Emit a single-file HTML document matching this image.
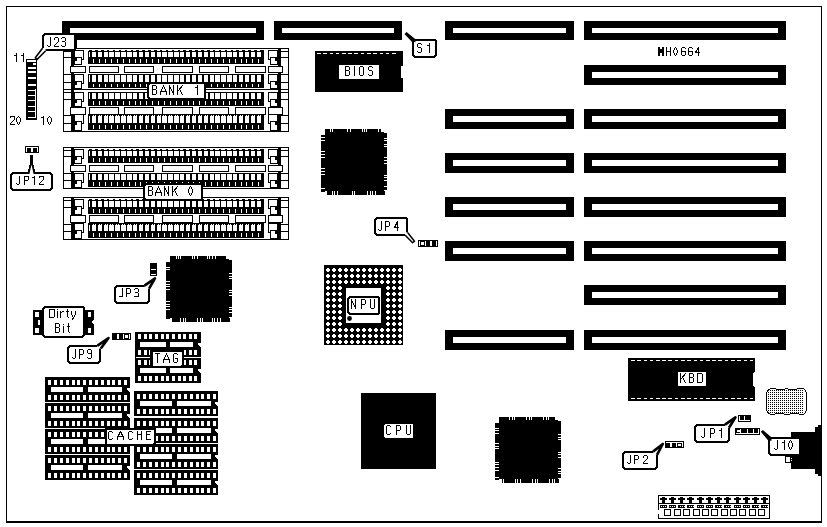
<!DOCTYPE html>
<html><head><meta charset="utf-8"><style>
html,body{margin:0;padding:0;background:#fff;overflow:hidden;}
svg{display:block;}
text{font-family:"Liberation Sans",sans-serif;}
</style></head><body>
<svg width="827" height="527" viewBox="0 0 827 527">
<rect width="827" height="527" fill="#fff"/>
<g shape-rendering="crispEdges">
<rect x="6" y="6" width="816" height="1" fill="#000"/>
<rect x="6" y="6" width="1" height="517" fill="#000"/>
<rect x="821" y="6" width="1" height="517" fill="#000"/>
<rect x="6" y="521" width="816" height="2" fill="#000"/>
<rect x="62" y="21" width="202" height="19" fill="#000"/>
<rect x="70" y="28" width="186" height="5" fill="#fff"/>
<rect x="274" y="21" width="128" height="19" fill="#000"/>
<rect x="282" y="28" width="112" height="5" fill="#fff"/>
<rect x="445" y="21" width="129" height="19" fill="#000"/>
<rect x="453" y="28" width="113" height="5" fill="#fff"/>
<rect x="584" y="21" width="202" height="19" fill="#000"/>
<rect x="592" y="28" width="186" height="5" fill="#fff"/>
<rect x="584" y="65" width="202" height="20" fill="#000"/>
<rect x="592" y="72" width="186" height="6" fill="#fff"/>
<rect x="445" y="109" width="129" height="20" fill="#000"/>
<rect x="453" y="116" width="113" height="6" fill="#fff"/>
<rect x="584" y="109" width="202" height="20" fill="#000"/>
<rect x="592" y="116" width="186" height="6" fill="#fff"/>
<rect x="445" y="153" width="129" height="20" fill="#000"/>
<rect x="453" y="160" width="113" height="6" fill="#fff"/>
<rect x="584" y="153" width="202" height="20" fill="#000"/>
<rect x="592" y="160" width="186" height="6" fill="#fff"/>
<rect x="445" y="197" width="129" height="20" fill="#000"/>
<rect x="453" y="204" width="113" height="6" fill="#fff"/>
<rect x="584" y="197" width="202" height="20" fill="#000"/>
<rect x="592" y="204" width="186" height="6" fill="#fff"/>
<rect x="445" y="241" width="129" height="20" fill="#000"/>
<rect x="453" y="248" width="113" height="6" fill="#fff"/>
<rect x="584" y="241" width="202" height="20" fill="#000"/>
<rect x="592" y="248" width="186" height="6" fill="#fff"/>
<rect x="584" y="285" width="202" height="20" fill="#000"/>
<rect x="592" y="292" width="186" height="6" fill="#fff"/>
<rect x="445" y="330" width="129" height="20" fill="#000"/>
<rect x="453" y="337" width="113" height="6" fill="#fff"/>
<rect x="584" y="330" width="202" height="20" fill="#000"/>
<rect x="592" y="337" width="186" height="6" fill="#fff"/>
<rect x="63" y="48" width="226" height="1" fill="#000"/>
<rect x="63" y="89" width="226" height="1" fill="#000"/>
<rect x="63" y="48" width="1" height="42" fill="#000"/>
<rect x="288" y="48" width="1" height="42" fill="#000"/>
<rect x="71" y="48" width="3" height="41" fill="#000"/>
<rect x="278" y="48" width="3" height="41" fill="#000"/>
<rect x="63" y="51" width="8" height="1" fill="#000"/>
<rect x="281" y="51" width="7" height="1" fill="#000"/>
<rect x="63" y="57" width="8" height="1" fill="#000"/>
<rect x="281" y="57" width="7" height="1" fill="#000"/>
<rect x="88" y="50" width="176" height="14" fill="#000"/>
<rect x="88" y="51" width="3" height="7" fill="#000"/>
<rect x="89" y="52" width="1" height="5" fill="#fff"/>
<rect x="92" y="52" width="4" height="5" fill="#fff"/>
<rect x="93" y="59" width="1" height="4" fill="#fff"/>
<rect x="92" y="50" width="3" height="1" fill="#fff"/>
<rect x="98" y="52" width="4" height="5" fill="#fff"/>
<rect x="99" y="59" width="1" height="4" fill="#fff"/>
<rect x="98" y="50" width="3" height="1" fill="#fff"/>
<rect x="104" y="52" width="4" height="5" fill="#fff"/>
<rect x="105" y="59" width="1" height="4" fill="#fff"/>
<rect x="104" y="50" width="3" height="1" fill="#fff"/>
<rect x="109" y="52" width="5" height="5" fill="#fff"/>
<rect x="111" y="59" width="1" height="4" fill="#fff"/>
<rect x="109" y="50" width="4" height="1" fill="#fff"/>
<rect x="115" y="52" width="5" height="5" fill="#fff"/>
<rect x="117" y="59" width="1" height="4" fill="#fff"/>
<rect x="115" y="50" width="4" height="1" fill="#fff"/>
<rect x="121" y="52" width="5" height="5" fill="#fff"/>
<rect x="123" y="59" width="1" height="4" fill="#fff"/>
<rect x="121" y="50" width="4" height="1" fill="#fff"/>
<rect x="127" y="52" width="5" height="5" fill="#fff"/>
<rect x="129" y="59" width="1" height="4" fill="#fff"/>
<rect x="127" y="50" width="4" height="1" fill="#fff"/>
<rect x="133" y="52" width="4" height="5" fill="#fff"/>
<rect x="135" y="59" width="1" height="4" fill="#fff"/>
<rect x="133" y="50" width="3" height="1" fill="#fff"/>
<rect x="139" y="52" width="4" height="5" fill="#fff"/>
<rect x="140" y="59" width="1" height="4" fill="#fff"/>
<rect x="139" y="50" width="3" height="1" fill="#fff"/>
<rect x="145" y="52" width="4" height="5" fill="#fff"/>
<rect x="146" y="59" width="1" height="4" fill="#fff"/>
<rect x="145" y="50" width="3" height="1" fill="#fff"/>
<rect x="151" y="52" width="4" height="5" fill="#fff"/>
<rect x="152" y="59" width="1" height="4" fill="#fff"/>
<rect x="151" y="50" width="3" height="1" fill="#fff"/>
<rect x="157" y="52" width="4" height="5" fill="#fff"/>
<rect x="158" y="59" width="1" height="4" fill="#fff"/>
<rect x="157" y="50" width="3" height="1" fill="#fff"/>
<rect x="162" y="52" width="5" height="5" fill="#fff"/>
<rect x="164" y="59" width="1" height="4" fill="#fff"/>
<rect x="162" y="50" width="4" height="1" fill="#fff"/>
<rect x="168" y="52" width="5" height="5" fill="#fff"/>
<rect x="170" y="59" width="1" height="4" fill="#fff"/>
<rect x="168" y="50" width="4" height="1" fill="#fff"/>
<rect x="174" y="52" width="5" height="5" fill="#fff"/>
<rect x="176" y="59" width="1" height="4" fill="#fff"/>
<rect x="174" y="50" width="4" height="1" fill="#fff"/>
<rect x="180" y="52" width="4" height="5" fill="#fff"/>
<rect x="182" y="59" width="1" height="4" fill="#fff"/>
<rect x="180" y="50" width="3" height="1" fill="#fff"/>
<rect x="186" y="52" width="4" height="5" fill="#fff"/>
<rect x="188" y="59" width="1" height="4" fill="#fff"/>
<rect x="186" y="50" width="3" height="1" fill="#fff"/>
<rect x="192" y="52" width="4" height="5" fill="#fff"/>
<rect x="193" y="59" width="1" height="4" fill="#fff"/>
<rect x="192" y="50" width="3" height="1" fill="#fff"/>
<rect x="198" y="52" width="4" height="5" fill="#fff"/>
<rect x="199" y="59" width="1" height="4" fill="#fff"/>
<rect x="198" y="50" width="3" height="1" fill="#fff"/>
<rect x="204" y="52" width="4" height="5" fill="#fff"/>
<rect x="205" y="59" width="1" height="4" fill="#fff"/>
<rect x="204" y="50" width="3" height="1" fill="#fff"/>
<rect x="210" y="52" width="4" height="5" fill="#fff"/>
<rect x="211" y="59" width="1" height="4" fill="#fff"/>
<rect x="210" y="50" width="3" height="1" fill="#fff"/>
<rect x="215" y="52" width="5" height="5" fill="#fff"/>
<rect x="217" y="59" width="1" height="4" fill="#fff"/>
<rect x="215" y="50" width="4" height="1" fill="#fff"/>
<rect x="221" y="52" width="5" height="5" fill="#fff"/>
<rect x="223" y="59" width="1" height="4" fill="#fff"/>
<rect x="221" y="50" width="4" height="1" fill="#fff"/>
<rect x="227" y="52" width="5" height="5" fill="#fff"/>
<rect x="229" y="59" width="1" height="4" fill="#fff"/>
<rect x="227" y="50" width="4" height="1" fill="#fff"/>
<rect x="233" y="52" width="4" height="5" fill="#fff"/>
<rect x="235" y="59" width="1" height="4" fill="#fff"/>
<rect x="233" y="50" width="3" height="1" fill="#fff"/>
<rect x="239" y="52" width="4" height="5" fill="#fff"/>
<rect x="241" y="59" width="1" height="4" fill="#fff"/>
<rect x="239" y="50" width="3" height="1" fill="#fff"/>
<rect x="245" y="52" width="4" height="5" fill="#fff"/>
<rect x="246" y="59" width="1" height="4" fill="#fff"/>
<rect x="245" y="50" width="3" height="1" fill="#fff"/>
<rect x="251" y="52" width="4" height="5" fill="#fff"/>
<rect x="252" y="59" width="1" height="4" fill="#fff"/>
<rect x="251" y="50" width="3" height="1" fill="#fff"/>
<rect x="257" y="52" width="4" height="5" fill="#fff"/>
<rect x="258" y="59" width="1" height="4" fill="#fff"/>
<rect x="257" y="50" width="3" height="1" fill="#fff"/>
<rect x="88" y="50" width="1" height="1" fill="#fff"/>
<rect x="74" y="50" width="10" height="10" fill="#000"/>
<rect x="75" y="51" width="8" height="8" fill="#fff"/>
<rect x="74" y="57" width="8" height="8" fill="#000"/>
<rect x="75" y="58" width="6" height="6" fill="#fff"/>
<rect x="74" y="58" width="3" height="3" fill="#000"/>
<rect x="268" y="50" width="10" height="10" fill="#000"/>
<rect x="269" y="51" width="8" height="8" fill="#fff"/>
<rect x="270" y="57" width="8" height="8" fill="#000"/>
<rect x="271" y="58" width="6" height="6" fill="#fff"/>
<rect x="275" y="58" width="3" height="3" fill="#000"/>
<rect x="63" y="74" width="8" height="1" fill="#000"/>
<rect x="281" y="74" width="7" height="1" fill="#000"/>
<rect x="63" y="82" width="8" height="1" fill="#000"/>
<rect x="281" y="82" width="7" height="1" fill="#000"/>
<rect x="88" y="74" width="176" height="14" fill="#000"/>
<rect x="88" y="74" width="3" height="9" fill="#000"/>
<rect x="89" y="75" width="1" height="7" fill="#fff"/>
<rect x="92" y="75" width="4" height="7" fill="#fff"/>
<rect x="93" y="84" width="1" height="3" fill="#fff"/>
<rect x="98" y="75" width="4" height="7" fill="#fff"/>
<rect x="99" y="84" width="1" height="3" fill="#fff"/>
<rect x="104" y="75" width="4" height="7" fill="#fff"/>
<rect x="105" y="84" width="1" height="3" fill="#fff"/>
<rect x="109" y="75" width="5" height="7" fill="#fff"/>
<rect x="111" y="84" width="1" height="3" fill="#fff"/>
<rect x="115" y="75" width="5" height="7" fill="#fff"/>
<rect x="117" y="84" width="1" height="3" fill="#fff"/>
<rect x="121" y="75" width="5" height="7" fill="#fff"/>
<rect x="123" y="84" width="1" height="3" fill="#fff"/>
<rect x="127" y="75" width="5" height="7" fill="#fff"/>
<rect x="129" y="84" width="1" height="3" fill="#fff"/>
<rect x="133" y="75" width="4" height="7" fill="#fff"/>
<rect x="135" y="84" width="1" height="3" fill="#fff"/>
<rect x="139" y="75" width="4" height="7" fill="#fff"/>
<rect x="140" y="84" width="1" height="3" fill="#fff"/>
<rect x="145" y="75" width="4" height="7" fill="#fff"/>
<rect x="146" y="84" width="1" height="3" fill="#fff"/>
<rect x="151" y="75" width="4" height="7" fill="#fff"/>
<rect x="152" y="84" width="1" height="3" fill="#fff"/>
<rect x="157" y="75" width="4" height="7" fill="#fff"/>
<rect x="158" y="84" width="1" height="3" fill="#fff"/>
<rect x="162" y="75" width="5" height="7" fill="#fff"/>
<rect x="164" y="84" width="1" height="3" fill="#fff"/>
<rect x="168" y="75" width="5" height="7" fill="#fff"/>
<rect x="170" y="84" width="1" height="3" fill="#fff"/>
<rect x="174" y="75" width="5" height="7" fill="#fff"/>
<rect x="176" y="84" width="1" height="3" fill="#fff"/>
<rect x="180" y="75" width="4" height="7" fill="#fff"/>
<rect x="182" y="84" width="1" height="3" fill="#fff"/>
<rect x="186" y="75" width="4" height="7" fill="#fff"/>
<rect x="188" y="84" width="1" height="3" fill="#fff"/>
<rect x="192" y="75" width="4" height="7" fill="#fff"/>
<rect x="193" y="84" width="1" height="3" fill="#fff"/>
<rect x="198" y="75" width="4" height="7" fill="#fff"/>
<rect x="199" y="84" width="1" height="3" fill="#fff"/>
<rect x="204" y="75" width="4" height="7" fill="#fff"/>
<rect x="205" y="84" width="1" height="3" fill="#fff"/>
<rect x="210" y="75" width="4" height="7" fill="#fff"/>
<rect x="211" y="84" width="1" height="3" fill="#fff"/>
<rect x="215" y="75" width="5" height="7" fill="#fff"/>
<rect x="217" y="84" width="1" height="3" fill="#fff"/>
<rect x="221" y="75" width="5" height="7" fill="#fff"/>
<rect x="223" y="84" width="1" height="3" fill="#fff"/>
<rect x="227" y="75" width="5" height="7" fill="#fff"/>
<rect x="229" y="84" width="1" height="3" fill="#fff"/>
<rect x="233" y="75" width="4" height="7" fill="#fff"/>
<rect x="235" y="84" width="1" height="3" fill="#fff"/>
<rect x="239" y="75" width="4" height="7" fill="#fff"/>
<rect x="241" y="84" width="1" height="3" fill="#fff"/>
<rect x="245" y="75" width="4" height="7" fill="#fff"/>
<rect x="246" y="84" width="1" height="3" fill="#fff"/>
<rect x="251" y="75" width="4" height="7" fill="#fff"/>
<rect x="252" y="84" width="1" height="3" fill="#fff"/>
<rect x="257" y="75" width="4" height="7" fill="#fff"/>
<rect x="258" y="84" width="1" height="3" fill="#fff"/>
<rect x="74" y="74" width="10" height="10" fill="#000"/>
<rect x="75" y="75" width="8" height="8" fill="#fff"/>
<rect x="74" y="81" width="8" height="8" fill="#000"/>
<rect x="75" y="82" width="6" height="6" fill="#fff"/>
<rect x="74" y="82" width="3" height="3" fill="#000"/>
<rect x="268" y="74" width="10" height="10" fill="#000"/>
<rect x="269" y="75" width="8" height="8" fill="#fff"/>
<rect x="270" y="81" width="8" height="8" fill="#000"/>
<rect x="271" y="82" width="6" height="6" fill="#fff"/>
<rect x="275" y="82" width="3" height="3" fill="#000"/>
<rect x="70" y="66" width="16" height="7" fill="#000"/>
<rect x="71" y="67" width="14" height="5" fill="#fff"/>
<rect x="89" y="66" width="30" height="7" fill="#000"/>
<rect x="90" y="67" width="28" height="5" fill="#fff"/>
<rect x="124" y="66" width="30" height="7" fill="#000"/>
<rect x="125" y="67" width="28" height="5" fill="#fff"/>
<rect x="162" y="66" width="31" height="7" fill="#000"/>
<rect x="163" y="67" width="29" height="5" fill="#fff"/>
<rect x="199" y="66" width="30" height="7" fill="#000"/>
<rect x="200" y="67" width="28" height="5" fill="#fff"/>
<rect x="235" y="66" width="31" height="7" fill="#000"/>
<rect x="236" y="67" width="29" height="5" fill="#fff"/>
<rect x="268" y="66" width="15" height="7" fill="#000"/>
<rect x="269" y="67" width="13" height="5" fill="#fff"/>
<rect x="63" y="89" width="226" height="1" fill="#000"/>
<rect x="63" y="131" width="226" height="1" fill="#000"/>
<rect x="63" y="89" width="1" height="43" fill="#000"/>
<rect x="288" y="89" width="1" height="43" fill="#000"/>
<rect x="71" y="89" width="3" height="42" fill="#000"/>
<rect x="278" y="89" width="3" height="42" fill="#000"/>
<rect x="63" y="92" width="8" height="1" fill="#000"/>
<rect x="281" y="92" width="7" height="1" fill="#000"/>
<rect x="63" y="99" width="8" height="1" fill="#000"/>
<rect x="281" y="99" width="7" height="1" fill="#000"/>
<rect x="88" y="92" width="176" height="14" fill="#000"/>
<rect x="88" y="92" width="3" height="8" fill="#000"/>
<rect x="89" y="93" width="1" height="6" fill="#fff"/>
<rect x="92" y="93" width="4" height="6" fill="#fff"/>
<rect x="93" y="101" width="1" height="4" fill="#fff"/>
<rect x="98" y="93" width="4" height="6" fill="#fff"/>
<rect x="99" y="101" width="1" height="4" fill="#fff"/>
<rect x="104" y="93" width="4" height="6" fill="#fff"/>
<rect x="105" y="101" width="1" height="4" fill="#fff"/>
<rect x="109" y="93" width="5" height="6" fill="#fff"/>
<rect x="111" y="101" width="1" height="4" fill="#fff"/>
<rect x="115" y="93" width="5" height="6" fill="#fff"/>
<rect x="117" y="101" width="1" height="4" fill="#fff"/>
<rect x="121" y="93" width="5" height="6" fill="#fff"/>
<rect x="123" y="101" width="1" height="4" fill="#fff"/>
<rect x="127" y="93" width="5" height="6" fill="#fff"/>
<rect x="129" y="101" width="1" height="4" fill="#fff"/>
<rect x="133" y="93" width="4" height="6" fill="#fff"/>
<rect x="135" y="101" width="1" height="4" fill="#fff"/>
<rect x="139" y="93" width="4" height="6" fill="#fff"/>
<rect x="140" y="101" width="1" height="4" fill="#fff"/>
<rect x="145" y="93" width="4" height="6" fill="#fff"/>
<rect x="146" y="101" width="1" height="4" fill="#fff"/>
<rect x="151" y="93" width="4" height="6" fill="#fff"/>
<rect x="152" y="101" width="1" height="4" fill="#fff"/>
<rect x="157" y="93" width="4" height="6" fill="#fff"/>
<rect x="158" y="101" width="1" height="4" fill="#fff"/>
<rect x="162" y="93" width="5" height="6" fill="#fff"/>
<rect x="164" y="101" width="1" height="4" fill="#fff"/>
<rect x="168" y="93" width="5" height="6" fill="#fff"/>
<rect x="170" y="101" width="1" height="4" fill="#fff"/>
<rect x="174" y="93" width="5" height="6" fill="#fff"/>
<rect x="176" y="101" width="1" height="4" fill="#fff"/>
<rect x="180" y="93" width="4" height="6" fill="#fff"/>
<rect x="182" y="101" width="1" height="4" fill="#fff"/>
<rect x="186" y="93" width="4" height="6" fill="#fff"/>
<rect x="188" y="101" width="1" height="4" fill="#fff"/>
<rect x="192" y="93" width="4" height="6" fill="#fff"/>
<rect x="193" y="101" width="1" height="4" fill="#fff"/>
<rect x="198" y="93" width="4" height="6" fill="#fff"/>
<rect x="199" y="101" width="1" height="4" fill="#fff"/>
<rect x="204" y="93" width="4" height="6" fill="#fff"/>
<rect x="205" y="101" width="1" height="4" fill="#fff"/>
<rect x="210" y="93" width="4" height="6" fill="#fff"/>
<rect x="211" y="101" width="1" height="4" fill="#fff"/>
<rect x="215" y="93" width="5" height="6" fill="#fff"/>
<rect x="217" y="101" width="1" height="4" fill="#fff"/>
<rect x="221" y="93" width="5" height="6" fill="#fff"/>
<rect x="223" y="101" width="1" height="4" fill="#fff"/>
<rect x="227" y="93" width="5" height="6" fill="#fff"/>
<rect x="229" y="101" width="1" height="4" fill="#fff"/>
<rect x="233" y="93" width="4" height="6" fill="#fff"/>
<rect x="235" y="101" width="1" height="4" fill="#fff"/>
<rect x="239" y="93" width="4" height="6" fill="#fff"/>
<rect x="241" y="101" width="1" height="4" fill="#fff"/>
<rect x="245" y="93" width="4" height="6" fill="#fff"/>
<rect x="246" y="101" width="1" height="4" fill="#fff"/>
<rect x="251" y="93" width="4" height="6" fill="#fff"/>
<rect x="252" y="101" width="1" height="4" fill="#fff"/>
<rect x="257" y="93" width="4" height="6" fill="#fff"/>
<rect x="258" y="101" width="1" height="4" fill="#fff"/>
<rect x="74" y="92" width="10" height="10" fill="#000"/>
<rect x="75" y="93" width="8" height="8" fill="#fff"/>
<rect x="74" y="99" width="8" height="8" fill="#000"/>
<rect x="75" y="100" width="6" height="6" fill="#fff"/>
<rect x="74" y="100" width="3" height="3" fill="#000"/>
<rect x="268" y="92" width="10" height="10" fill="#000"/>
<rect x="269" y="93" width="8" height="8" fill="#fff"/>
<rect x="270" y="99" width="8" height="8" fill="#000"/>
<rect x="271" y="100" width="6" height="6" fill="#fff"/>
<rect x="275" y="100" width="3" height="3" fill="#000"/>
<rect x="63" y="115" width="8" height="1" fill="#000"/>
<rect x="281" y="115" width="7" height="1" fill="#000"/>
<rect x="63" y="123" width="8" height="1" fill="#000"/>
<rect x="281" y="123" width="7" height="1" fill="#000"/>
<rect x="88" y="114" width="176" height="16" fill="#000"/>
<rect x="88" y="115" width="3" height="9" fill="#000"/>
<rect x="89" y="116" width="1" height="7" fill="#fff"/>
<rect x="92" y="116" width="4" height="7" fill="#fff"/>
<rect x="93" y="125" width="1" height="4" fill="#fff"/>
<rect x="93" y="115" width="1" height="1" fill="#fff"/>
<rect x="95" y="115" width="1" height="1" fill="#fff"/>
<rect x="98" y="116" width="4" height="7" fill="#fff"/>
<rect x="99" y="125" width="1" height="4" fill="#fff"/>
<rect x="99" y="115" width="1" height="1" fill="#fff"/>
<rect x="101" y="115" width="1" height="1" fill="#fff"/>
<rect x="104" y="116" width="4" height="7" fill="#fff"/>
<rect x="105" y="125" width="1" height="4" fill="#fff"/>
<rect x="105" y="115" width="1" height="1" fill="#fff"/>
<rect x="107" y="115" width="1" height="1" fill="#fff"/>
<rect x="109" y="116" width="5" height="7" fill="#fff"/>
<rect x="111" y="125" width="1" height="4" fill="#fff"/>
<rect x="110" y="115" width="1" height="1" fill="#fff"/>
<rect x="112" y="115" width="1" height="1" fill="#fff"/>
<rect x="115" y="116" width="5" height="7" fill="#fff"/>
<rect x="117" y="125" width="1" height="4" fill="#fff"/>
<rect x="116" y="115" width="1" height="1" fill="#fff"/>
<rect x="118" y="115" width="1" height="1" fill="#fff"/>
<rect x="121" y="116" width="5" height="7" fill="#fff"/>
<rect x="123" y="125" width="1" height="4" fill="#fff"/>
<rect x="122" y="115" width="1" height="1" fill="#fff"/>
<rect x="124" y="115" width="1" height="1" fill="#fff"/>
<rect x="127" y="116" width="5" height="7" fill="#fff"/>
<rect x="129" y="125" width="1" height="4" fill="#fff"/>
<rect x="128" y="115" width="1" height="1" fill="#fff"/>
<rect x="130" y="115" width="1" height="1" fill="#fff"/>
<rect x="133" y="116" width="4" height="7" fill="#fff"/>
<rect x="135" y="125" width="1" height="4" fill="#fff"/>
<rect x="134" y="115" width="1" height="1" fill="#fff"/>
<rect x="136" y="115" width="1" height="1" fill="#fff"/>
<rect x="139" y="116" width="4" height="7" fill="#fff"/>
<rect x="140" y="125" width="1" height="4" fill="#fff"/>
<rect x="140" y="115" width="1" height="1" fill="#fff"/>
<rect x="142" y="115" width="1" height="1" fill="#fff"/>
<rect x="145" y="116" width="4" height="7" fill="#fff"/>
<rect x="146" y="125" width="1" height="4" fill="#fff"/>
<rect x="146" y="115" width="1" height="1" fill="#fff"/>
<rect x="148" y="115" width="1" height="1" fill="#fff"/>
<rect x="151" y="116" width="4" height="7" fill="#fff"/>
<rect x="152" y="125" width="1" height="4" fill="#fff"/>
<rect x="152" y="115" width="1" height="1" fill="#fff"/>
<rect x="154" y="115" width="1" height="1" fill="#fff"/>
<rect x="157" y="116" width="4" height="7" fill="#fff"/>
<rect x="158" y="125" width="1" height="4" fill="#fff"/>
<rect x="158" y="115" width="1" height="1" fill="#fff"/>
<rect x="160" y="115" width="1" height="1" fill="#fff"/>
<rect x="162" y="116" width="5" height="7" fill="#fff"/>
<rect x="164" y="125" width="1" height="4" fill="#fff"/>
<rect x="163" y="115" width="1" height="1" fill="#fff"/>
<rect x="165" y="115" width="1" height="1" fill="#fff"/>
<rect x="168" y="116" width="5" height="7" fill="#fff"/>
<rect x="170" y="125" width="1" height="4" fill="#fff"/>
<rect x="169" y="115" width="1" height="1" fill="#fff"/>
<rect x="171" y="115" width="1" height="1" fill="#fff"/>
<rect x="174" y="116" width="5" height="7" fill="#fff"/>
<rect x="176" y="125" width="1" height="4" fill="#fff"/>
<rect x="175" y="115" width="1" height="1" fill="#fff"/>
<rect x="177" y="115" width="1" height="1" fill="#fff"/>
<rect x="180" y="116" width="4" height="7" fill="#fff"/>
<rect x="182" y="125" width="1" height="4" fill="#fff"/>
<rect x="181" y="115" width="1" height="1" fill="#fff"/>
<rect x="183" y="115" width="1" height="1" fill="#fff"/>
<rect x="186" y="116" width="4" height="7" fill="#fff"/>
<rect x="188" y="125" width="1" height="4" fill="#fff"/>
<rect x="187" y="115" width="1" height="1" fill="#fff"/>
<rect x="189" y="115" width="1" height="1" fill="#fff"/>
<rect x="192" y="116" width="4" height="7" fill="#fff"/>
<rect x="193" y="125" width="1" height="4" fill="#fff"/>
<rect x="193" y="115" width="1" height="1" fill="#fff"/>
<rect x="195" y="115" width="1" height="1" fill="#fff"/>
<rect x="198" y="116" width="4" height="7" fill="#fff"/>
<rect x="199" y="125" width="1" height="4" fill="#fff"/>
<rect x="199" y="115" width="1" height="1" fill="#fff"/>
<rect x="201" y="115" width="1" height="1" fill="#fff"/>
<rect x="204" y="116" width="4" height="7" fill="#fff"/>
<rect x="205" y="125" width="1" height="4" fill="#fff"/>
<rect x="205" y="115" width="1" height="1" fill="#fff"/>
<rect x="207" y="115" width="1" height="1" fill="#fff"/>
<rect x="210" y="116" width="4" height="7" fill="#fff"/>
<rect x="211" y="125" width="1" height="4" fill="#fff"/>
<rect x="211" y="115" width="1" height="1" fill="#fff"/>
<rect x="213" y="115" width="1" height="1" fill="#fff"/>
<rect x="215" y="116" width="5" height="7" fill="#fff"/>
<rect x="217" y="125" width="1" height="4" fill="#fff"/>
<rect x="216" y="115" width="1" height="1" fill="#fff"/>
<rect x="218" y="115" width="1" height="1" fill="#fff"/>
<rect x="221" y="116" width="5" height="7" fill="#fff"/>
<rect x="223" y="125" width="1" height="4" fill="#fff"/>
<rect x="222" y="115" width="1" height="1" fill="#fff"/>
<rect x="224" y="115" width="1" height="1" fill="#fff"/>
<rect x="227" y="116" width="5" height="7" fill="#fff"/>
<rect x="229" y="125" width="1" height="4" fill="#fff"/>
<rect x="228" y="115" width="1" height="1" fill="#fff"/>
<rect x="230" y="115" width="1" height="1" fill="#fff"/>
<rect x="233" y="116" width="4" height="7" fill="#fff"/>
<rect x="235" y="125" width="1" height="4" fill="#fff"/>
<rect x="234" y="115" width="1" height="1" fill="#fff"/>
<rect x="236" y="115" width="1" height="1" fill="#fff"/>
<rect x="239" y="116" width="4" height="7" fill="#fff"/>
<rect x="241" y="125" width="1" height="4" fill="#fff"/>
<rect x="240" y="115" width="1" height="1" fill="#fff"/>
<rect x="242" y="115" width="1" height="1" fill="#fff"/>
<rect x="245" y="116" width="4" height="7" fill="#fff"/>
<rect x="246" y="125" width="1" height="4" fill="#fff"/>
<rect x="246" y="115" width="1" height="1" fill="#fff"/>
<rect x="248" y="115" width="1" height="1" fill="#fff"/>
<rect x="251" y="116" width="4" height="7" fill="#fff"/>
<rect x="252" y="125" width="1" height="4" fill="#fff"/>
<rect x="252" y="115" width="1" height="1" fill="#fff"/>
<rect x="254" y="115" width="1" height="1" fill="#fff"/>
<rect x="257" y="116" width="4" height="7" fill="#fff"/>
<rect x="258" y="125" width="1" height="4" fill="#fff"/>
<rect x="258" y="115" width="1" height="1" fill="#fff"/>
<rect x="260" y="115" width="1" height="1" fill="#fff"/>
<rect x="74" y="114" width="10" height="10" fill="#000"/>
<rect x="75" y="115" width="8" height="8" fill="#fff"/>
<rect x="74" y="121" width="8" height="10" fill="#000"/>
<rect x="75" y="122" width="6" height="8" fill="#fff"/>
<rect x="74" y="122" width="3" height="3" fill="#000"/>
<rect x="268" y="114" width="10" height="10" fill="#000"/>
<rect x="269" y="115" width="8" height="8" fill="#fff"/>
<rect x="270" y="121" width="8" height="10" fill="#000"/>
<rect x="271" y="122" width="6" height="8" fill="#fff"/>
<rect x="275" y="122" width="3" height="3" fill="#000"/>
<rect x="70" y="107" width="16" height="8" fill="#000"/>
<rect x="71" y="108" width="14" height="6" fill="#fff"/>
<rect x="89" y="107" width="30" height="8" fill="#000"/>
<rect x="90" y="108" width="28" height="6" fill="#fff"/>
<rect x="124" y="107" width="30" height="8" fill="#000"/>
<rect x="125" y="108" width="28" height="6" fill="#fff"/>
<rect x="162" y="107" width="31" height="8" fill="#000"/>
<rect x="163" y="108" width="29" height="6" fill="#fff"/>
<rect x="199" y="107" width="30" height="8" fill="#000"/>
<rect x="200" y="108" width="28" height="6" fill="#fff"/>
<rect x="235" y="107" width="31" height="8" fill="#000"/>
<rect x="236" y="108" width="29" height="6" fill="#fff"/>
<rect x="268" y="107" width="15" height="8" fill="#000"/>
<rect x="269" y="108" width="13" height="6" fill="#fff"/>
<rect x="63" y="147" width="226" height="1" fill="#000"/>
<rect x="63" y="188" width="226" height="1" fill="#000"/>
<rect x="63" y="147" width="1" height="42" fill="#000"/>
<rect x="288" y="147" width="1" height="42" fill="#000"/>
<rect x="71" y="147" width="3" height="41" fill="#000"/>
<rect x="278" y="147" width="3" height="41" fill="#000"/>
<rect x="63" y="150" width="8" height="1" fill="#000"/>
<rect x="281" y="150" width="7" height="1" fill="#000"/>
<rect x="63" y="156" width="8" height="1" fill="#000"/>
<rect x="281" y="156" width="7" height="1" fill="#000"/>
<rect x="88" y="149" width="176" height="14" fill="#000"/>
<rect x="88" y="150" width="3" height="7" fill="#000"/>
<rect x="89" y="151" width="1" height="5" fill="#fff"/>
<rect x="92" y="151" width="4" height="5" fill="#fff"/>
<rect x="93" y="158" width="1" height="4" fill="#fff"/>
<rect x="92" y="149" width="3" height="1" fill="#fff"/>
<rect x="98" y="151" width="4" height="5" fill="#fff"/>
<rect x="99" y="158" width="1" height="4" fill="#fff"/>
<rect x="98" y="149" width="3" height="1" fill="#fff"/>
<rect x="104" y="151" width="4" height="5" fill="#fff"/>
<rect x="105" y="158" width="1" height="4" fill="#fff"/>
<rect x="104" y="149" width="3" height="1" fill="#fff"/>
<rect x="109" y="151" width="5" height="5" fill="#fff"/>
<rect x="111" y="158" width="1" height="4" fill="#fff"/>
<rect x="109" y="149" width="4" height="1" fill="#fff"/>
<rect x="115" y="151" width="5" height="5" fill="#fff"/>
<rect x="117" y="158" width="1" height="4" fill="#fff"/>
<rect x="115" y="149" width="4" height="1" fill="#fff"/>
<rect x="121" y="151" width="5" height="5" fill="#fff"/>
<rect x="123" y="158" width="1" height="4" fill="#fff"/>
<rect x="121" y="149" width="4" height="1" fill="#fff"/>
<rect x="127" y="151" width="5" height="5" fill="#fff"/>
<rect x="129" y="158" width="1" height="4" fill="#fff"/>
<rect x="127" y="149" width="4" height="1" fill="#fff"/>
<rect x="133" y="151" width="4" height="5" fill="#fff"/>
<rect x="135" y="158" width="1" height="4" fill="#fff"/>
<rect x="133" y="149" width="3" height="1" fill="#fff"/>
<rect x="139" y="151" width="4" height="5" fill="#fff"/>
<rect x="140" y="158" width="1" height="4" fill="#fff"/>
<rect x="139" y="149" width="3" height="1" fill="#fff"/>
<rect x="145" y="151" width="4" height="5" fill="#fff"/>
<rect x="146" y="158" width="1" height="4" fill="#fff"/>
<rect x="145" y="149" width="3" height="1" fill="#fff"/>
<rect x="151" y="151" width="4" height="5" fill="#fff"/>
<rect x="152" y="158" width="1" height="4" fill="#fff"/>
<rect x="151" y="149" width="3" height="1" fill="#fff"/>
<rect x="157" y="151" width="4" height="5" fill="#fff"/>
<rect x="158" y="158" width="1" height="4" fill="#fff"/>
<rect x="157" y="149" width="3" height="1" fill="#fff"/>
<rect x="162" y="151" width="5" height="5" fill="#fff"/>
<rect x="164" y="158" width="1" height="4" fill="#fff"/>
<rect x="162" y="149" width="4" height="1" fill="#fff"/>
<rect x="168" y="151" width="5" height="5" fill="#fff"/>
<rect x="170" y="158" width="1" height="4" fill="#fff"/>
<rect x="168" y="149" width="4" height="1" fill="#fff"/>
<rect x="174" y="151" width="5" height="5" fill="#fff"/>
<rect x="176" y="158" width="1" height="4" fill="#fff"/>
<rect x="174" y="149" width="4" height="1" fill="#fff"/>
<rect x="180" y="151" width="4" height="5" fill="#fff"/>
<rect x="182" y="158" width="1" height="4" fill="#fff"/>
<rect x="180" y="149" width="3" height="1" fill="#fff"/>
<rect x="186" y="151" width="4" height="5" fill="#fff"/>
<rect x="188" y="158" width="1" height="4" fill="#fff"/>
<rect x="186" y="149" width="3" height="1" fill="#fff"/>
<rect x="192" y="151" width="4" height="5" fill="#fff"/>
<rect x="193" y="158" width="1" height="4" fill="#fff"/>
<rect x="192" y="149" width="3" height="1" fill="#fff"/>
<rect x="198" y="151" width="4" height="5" fill="#fff"/>
<rect x="199" y="158" width="1" height="4" fill="#fff"/>
<rect x="198" y="149" width="3" height="1" fill="#fff"/>
<rect x="204" y="151" width="4" height="5" fill="#fff"/>
<rect x="205" y="158" width="1" height="4" fill="#fff"/>
<rect x="204" y="149" width="3" height="1" fill="#fff"/>
<rect x="210" y="151" width="4" height="5" fill="#fff"/>
<rect x="211" y="158" width="1" height="4" fill="#fff"/>
<rect x="210" y="149" width="3" height="1" fill="#fff"/>
<rect x="215" y="151" width="5" height="5" fill="#fff"/>
<rect x="217" y="158" width="1" height="4" fill="#fff"/>
<rect x="215" y="149" width="4" height="1" fill="#fff"/>
<rect x="221" y="151" width="5" height="5" fill="#fff"/>
<rect x="223" y="158" width="1" height="4" fill="#fff"/>
<rect x="221" y="149" width="4" height="1" fill="#fff"/>
<rect x="227" y="151" width="5" height="5" fill="#fff"/>
<rect x="229" y="158" width="1" height="4" fill="#fff"/>
<rect x="227" y="149" width="4" height="1" fill="#fff"/>
<rect x="233" y="151" width="4" height="5" fill="#fff"/>
<rect x="235" y="158" width="1" height="4" fill="#fff"/>
<rect x="233" y="149" width="3" height="1" fill="#fff"/>
<rect x="239" y="151" width="4" height="5" fill="#fff"/>
<rect x="241" y="158" width="1" height="4" fill="#fff"/>
<rect x="239" y="149" width="3" height="1" fill="#fff"/>
<rect x="245" y="151" width="4" height="5" fill="#fff"/>
<rect x="246" y="158" width="1" height="4" fill="#fff"/>
<rect x="245" y="149" width="3" height="1" fill="#fff"/>
<rect x="251" y="151" width="4" height="5" fill="#fff"/>
<rect x="252" y="158" width="1" height="4" fill="#fff"/>
<rect x="251" y="149" width="3" height="1" fill="#fff"/>
<rect x="257" y="151" width="4" height="5" fill="#fff"/>
<rect x="258" y="158" width="1" height="4" fill="#fff"/>
<rect x="257" y="149" width="3" height="1" fill="#fff"/>
<rect x="88" y="149" width="1" height="1" fill="#fff"/>
<rect x="74" y="149" width="10" height="10" fill="#000"/>
<rect x="75" y="150" width="8" height="8" fill="#fff"/>
<rect x="74" y="156" width="8" height="8" fill="#000"/>
<rect x="75" y="157" width="6" height="6" fill="#fff"/>
<rect x="74" y="157" width="3" height="3" fill="#000"/>
<rect x="268" y="149" width="10" height="10" fill="#000"/>
<rect x="269" y="150" width="8" height="8" fill="#fff"/>
<rect x="270" y="156" width="8" height="8" fill="#000"/>
<rect x="271" y="157" width="6" height="6" fill="#fff"/>
<rect x="275" y="157" width="3" height="3" fill="#000"/>
<rect x="63" y="173" width="8" height="1" fill="#000"/>
<rect x="281" y="173" width="7" height="1" fill="#000"/>
<rect x="63" y="180" width="8" height="1" fill="#000"/>
<rect x="281" y="180" width="7" height="1" fill="#000"/>
<rect x="88" y="173" width="176" height="14" fill="#000"/>
<rect x="88" y="173" width="3" height="8" fill="#000"/>
<rect x="89" y="174" width="1" height="6" fill="#fff"/>
<rect x="92" y="174" width="4" height="6" fill="#fff"/>
<rect x="93" y="182" width="1" height="4" fill="#fff"/>
<rect x="98" y="174" width="4" height="6" fill="#fff"/>
<rect x="99" y="182" width="1" height="4" fill="#fff"/>
<rect x="104" y="174" width="4" height="6" fill="#fff"/>
<rect x="105" y="182" width="1" height="4" fill="#fff"/>
<rect x="109" y="174" width="5" height="6" fill="#fff"/>
<rect x="111" y="182" width="1" height="4" fill="#fff"/>
<rect x="115" y="174" width="5" height="6" fill="#fff"/>
<rect x="117" y="182" width="1" height="4" fill="#fff"/>
<rect x="121" y="174" width="5" height="6" fill="#fff"/>
<rect x="123" y="182" width="1" height="4" fill="#fff"/>
<rect x="127" y="174" width="5" height="6" fill="#fff"/>
<rect x="129" y="182" width="1" height="4" fill="#fff"/>
<rect x="133" y="174" width="4" height="6" fill="#fff"/>
<rect x="135" y="182" width="1" height="4" fill="#fff"/>
<rect x="139" y="174" width="4" height="6" fill="#fff"/>
<rect x="140" y="182" width="1" height="4" fill="#fff"/>
<rect x="145" y="174" width="4" height="6" fill="#fff"/>
<rect x="146" y="182" width="1" height="4" fill="#fff"/>
<rect x="151" y="174" width="4" height="6" fill="#fff"/>
<rect x="152" y="182" width="1" height="4" fill="#fff"/>
<rect x="157" y="174" width="4" height="6" fill="#fff"/>
<rect x="158" y="182" width="1" height="4" fill="#fff"/>
<rect x="162" y="174" width="5" height="6" fill="#fff"/>
<rect x="164" y="182" width="1" height="4" fill="#fff"/>
<rect x="168" y="174" width="5" height="6" fill="#fff"/>
<rect x="170" y="182" width="1" height="4" fill="#fff"/>
<rect x="174" y="174" width="5" height="6" fill="#fff"/>
<rect x="176" y="182" width="1" height="4" fill="#fff"/>
<rect x="180" y="174" width="4" height="6" fill="#fff"/>
<rect x="182" y="182" width="1" height="4" fill="#fff"/>
<rect x="186" y="174" width="4" height="6" fill="#fff"/>
<rect x="188" y="182" width="1" height="4" fill="#fff"/>
<rect x="192" y="174" width="4" height="6" fill="#fff"/>
<rect x="193" y="182" width="1" height="4" fill="#fff"/>
<rect x="198" y="174" width="4" height="6" fill="#fff"/>
<rect x="199" y="182" width="1" height="4" fill="#fff"/>
<rect x="204" y="174" width="4" height="6" fill="#fff"/>
<rect x="205" y="182" width="1" height="4" fill="#fff"/>
<rect x="210" y="174" width="4" height="6" fill="#fff"/>
<rect x="211" y="182" width="1" height="4" fill="#fff"/>
<rect x="215" y="174" width="5" height="6" fill="#fff"/>
<rect x="217" y="182" width="1" height="4" fill="#fff"/>
<rect x="221" y="174" width="5" height="6" fill="#fff"/>
<rect x="223" y="182" width="1" height="4" fill="#fff"/>
<rect x="227" y="174" width="5" height="6" fill="#fff"/>
<rect x="229" y="182" width="1" height="4" fill="#fff"/>
<rect x="233" y="174" width="4" height="6" fill="#fff"/>
<rect x="235" y="182" width="1" height="4" fill="#fff"/>
<rect x="239" y="174" width="4" height="6" fill="#fff"/>
<rect x="241" y="182" width="1" height="4" fill="#fff"/>
<rect x="245" y="174" width="4" height="6" fill="#fff"/>
<rect x="246" y="182" width="1" height="4" fill="#fff"/>
<rect x="251" y="174" width="4" height="6" fill="#fff"/>
<rect x="252" y="182" width="1" height="4" fill="#fff"/>
<rect x="257" y="174" width="4" height="6" fill="#fff"/>
<rect x="258" y="182" width="1" height="4" fill="#fff"/>
<rect x="74" y="173" width="10" height="10" fill="#000"/>
<rect x="75" y="174" width="8" height="8" fill="#fff"/>
<rect x="74" y="180" width="8" height="8" fill="#000"/>
<rect x="75" y="181" width="6" height="6" fill="#fff"/>
<rect x="74" y="181" width="3" height="3" fill="#000"/>
<rect x="268" y="173" width="10" height="10" fill="#000"/>
<rect x="269" y="174" width="8" height="8" fill="#fff"/>
<rect x="270" y="180" width="8" height="8" fill="#000"/>
<rect x="271" y="181" width="6" height="6" fill="#fff"/>
<rect x="275" y="181" width="3" height="3" fill="#000"/>
<rect x="70" y="165" width="16" height="7" fill="#000"/>
<rect x="71" y="166" width="14" height="5" fill="#fff"/>
<rect x="89" y="165" width="30" height="7" fill="#000"/>
<rect x="90" y="166" width="28" height="5" fill="#fff"/>
<rect x="124" y="165" width="30" height="7" fill="#000"/>
<rect x="125" y="166" width="28" height="5" fill="#fff"/>
<rect x="162" y="165" width="31" height="7" fill="#000"/>
<rect x="163" y="166" width="29" height="5" fill="#fff"/>
<rect x="199" y="165" width="30" height="7" fill="#000"/>
<rect x="200" y="166" width="28" height="5" fill="#fff"/>
<rect x="235" y="165" width="31" height="7" fill="#000"/>
<rect x="236" y="166" width="29" height="5" fill="#fff"/>
<rect x="268" y="165" width="15" height="7" fill="#000"/>
<rect x="269" y="166" width="13" height="5" fill="#fff"/>
<rect x="63" y="197" width="226" height="1" fill="#000"/>
<rect x="63" y="239" width="226" height="1" fill="#000"/>
<rect x="63" y="197" width="1" height="43" fill="#000"/>
<rect x="288" y="197" width="1" height="43" fill="#000"/>
<rect x="71" y="197" width="3" height="42" fill="#000"/>
<rect x="278" y="197" width="3" height="42" fill="#000"/>
<rect x="63" y="200" width="8" height="1" fill="#000"/>
<rect x="281" y="200" width="7" height="1" fill="#000"/>
<rect x="63" y="207" width="8" height="1" fill="#000"/>
<rect x="281" y="207" width="7" height="1" fill="#000"/>
<rect x="88" y="199" width="176" height="15" fill="#000"/>
<rect x="88" y="200" width="3" height="8" fill="#000"/>
<rect x="89" y="201" width="1" height="6" fill="#fff"/>
<rect x="92" y="201" width="4" height="6" fill="#fff"/>
<rect x="93" y="209" width="1" height="4" fill="#fff"/>
<rect x="92" y="199" width="3" height="1" fill="#fff"/>
<rect x="98" y="201" width="4" height="6" fill="#fff"/>
<rect x="99" y="209" width="1" height="4" fill="#fff"/>
<rect x="98" y="199" width="3" height="1" fill="#fff"/>
<rect x="104" y="201" width="4" height="6" fill="#fff"/>
<rect x="105" y="209" width="1" height="4" fill="#fff"/>
<rect x="104" y="199" width="3" height="1" fill="#fff"/>
<rect x="109" y="201" width="5" height="6" fill="#fff"/>
<rect x="111" y="209" width="1" height="4" fill="#fff"/>
<rect x="109" y="199" width="4" height="1" fill="#fff"/>
<rect x="115" y="201" width="5" height="6" fill="#fff"/>
<rect x="117" y="209" width="1" height="4" fill="#fff"/>
<rect x="115" y="199" width="4" height="1" fill="#fff"/>
<rect x="121" y="201" width="5" height="6" fill="#fff"/>
<rect x="123" y="209" width="1" height="4" fill="#fff"/>
<rect x="121" y="199" width="4" height="1" fill="#fff"/>
<rect x="127" y="201" width="5" height="6" fill="#fff"/>
<rect x="129" y="209" width="1" height="4" fill="#fff"/>
<rect x="127" y="199" width="4" height="1" fill="#fff"/>
<rect x="133" y="201" width="4" height="6" fill="#fff"/>
<rect x="135" y="209" width="1" height="4" fill="#fff"/>
<rect x="133" y="199" width="3" height="1" fill="#fff"/>
<rect x="139" y="201" width="4" height="6" fill="#fff"/>
<rect x="140" y="209" width="1" height="4" fill="#fff"/>
<rect x="139" y="199" width="3" height="1" fill="#fff"/>
<rect x="145" y="201" width="4" height="6" fill="#fff"/>
<rect x="146" y="209" width="1" height="4" fill="#fff"/>
<rect x="145" y="199" width="3" height="1" fill="#fff"/>
<rect x="151" y="201" width="4" height="6" fill="#fff"/>
<rect x="152" y="209" width="1" height="4" fill="#fff"/>
<rect x="151" y="199" width="3" height="1" fill="#fff"/>
<rect x="157" y="201" width="4" height="6" fill="#fff"/>
<rect x="158" y="209" width="1" height="4" fill="#fff"/>
<rect x="157" y="199" width="3" height="1" fill="#fff"/>
<rect x="162" y="201" width="5" height="6" fill="#fff"/>
<rect x="164" y="209" width="1" height="4" fill="#fff"/>
<rect x="162" y="199" width="4" height="1" fill="#fff"/>
<rect x="168" y="201" width="5" height="6" fill="#fff"/>
<rect x="170" y="209" width="1" height="4" fill="#fff"/>
<rect x="168" y="199" width="4" height="1" fill="#fff"/>
<rect x="174" y="201" width="5" height="6" fill="#fff"/>
<rect x="176" y="209" width="1" height="4" fill="#fff"/>
<rect x="174" y="199" width="4" height="1" fill="#fff"/>
<rect x="180" y="201" width="4" height="6" fill="#fff"/>
<rect x="182" y="209" width="1" height="4" fill="#fff"/>
<rect x="180" y="199" width="3" height="1" fill="#fff"/>
<rect x="186" y="201" width="4" height="6" fill="#fff"/>
<rect x="188" y="209" width="1" height="4" fill="#fff"/>
<rect x="186" y="199" width="3" height="1" fill="#fff"/>
<rect x="192" y="201" width="4" height="6" fill="#fff"/>
<rect x="193" y="209" width="1" height="4" fill="#fff"/>
<rect x="192" y="199" width="3" height="1" fill="#fff"/>
<rect x="198" y="201" width="4" height="6" fill="#fff"/>
<rect x="199" y="209" width="1" height="4" fill="#fff"/>
<rect x="198" y="199" width="3" height="1" fill="#fff"/>
<rect x="204" y="201" width="4" height="6" fill="#fff"/>
<rect x="205" y="209" width="1" height="4" fill="#fff"/>
<rect x="204" y="199" width="3" height="1" fill="#fff"/>
<rect x="210" y="201" width="4" height="6" fill="#fff"/>
<rect x="211" y="209" width="1" height="4" fill="#fff"/>
<rect x="210" y="199" width="3" height="1" fill="#fff"/>
<rect x="215" y="201" width="5" height="6" fill="#fff"/>
<rect x="217" y="209" width="1" height="4" fill="#fff"/>
<rect x="215" y="199" width="4" height="1" fill="#fff"/>
<rect x="221" y="201" width="5" height="6" fill="#fff"/>
<rect x="223" y="209" width="1" height="4" fill="#fff"/>
<rect x="221" y="199" width="4" height="1" fill="#fff"/>
<rect x="227" y="201" width="5" height="6" fill="#fff"/>
<rect x="229" y="209" width="1" height="4" fill="#fff"/>
<rect x="227" y="199" width="4" height="1" fill="#fff"/>
<rect x="233" y="201" width="4" height="6" fill="#fff"/>
<rect x="235" y="209" width="1" height="4" fill="#fff"/>
<rect x="233" y="199" width="3" height="1" fill="#fff"/>
<rect x="239" y="201" width="4" height="6" fill="#fff"/>
<rect x="241" y="209" width="1" height="4" fill="#fff"/>
<rect x="239" y="199" width="3" height="1" fill="#fff"/>
<rect x="245" y="201" width="4" height="6" fill="#fff"/>
<rect x="246" y="209" width="1" height="4" fill="#fff"/>
<rect x="245" y="199" width="3" height="1" fill="#fff"/>
<rect x="251" y="201" width="4" height="6" fill="#fff"/>
<rect x="252" y="209" width="1" height="4" fill="#fff"/>
<rect x="251" y="199" width="3" height="1" fill="#fff"/>
<rect x="257" y="201" width="4" height="6" fill="#fff"/>
<rect x="258" y="209" width="1" height="4" fill="#fff"/>
<rect x="257" y="199" width="3" height="1" fill="#fff"/>
<rect x="88" y="199" width="1" height="1" fill="#fff"/>
<rect x="74" y="199" width="10" height="10" fill="#000"/>
<rect x="75" y="200" width="8" height="8" fill="#fff"/>
<rect x="74" y="206" width="8" height="9" fill="#000"/>
<rect x="75" y="207" width="6" height="7" fill="#fff"/>
<rect x="74" y="207" width="3" height="3" fill="#000"/>
<rect x="268" y="199" width="10" height="10" fill="#000"/>
<rect x="269" y="200" width="8" height="8" fill="#fff"/>
<rect x="270" y="206" width="8" height="9" fill="#000"/>
<rect x="271" y="207" width="6" height="7" fill="#fff"/>
<rect x="275" y="207" width="3" height="3" fill="#000"/>
<rect x="63" y="224" width="8" height="1" fill="#000"/>
<rect x="281" y="224" width="7" height="1" fill="#000"/>
<rect x="63" y="231" width="8" height="1" fill="#000"/>
<rect x="281" y="231" width="7" height="1" fill="#000"/>
<rect x="88" y="223" width="176" height="15" fill="#000"/>
<rect x="88" y="224" width="3" height="8" fill="#000"/>
<rect x="89" y="225" width="1" height="6" fill="#fff"/>
<rect x="92" y="225" width="4" height="6" fill="#fff"/>
<rect x="93" y="233" width="1" height="4" fill="#fff"/>
<rect x="93" y="224" width="1" height="1" fill="#fff"/>
<rect x="95" y="224" width="1" height="1" fill="#fff"/>
<rect x="98" y="225" width="4" height="6" fill="#fff"/>
<rect x="99" y="233" width="1" height="4" fill="#fff"/>
<rect x="99" y="224" width="1" height="1" fill="#fff"/>
<rect x="101" y="224" width="1" height="1" fill="#fff"/>
<rect x="104" y="225" width="4" height="6" fill="#fff"/>
<rect x="105" y="233" width="1" height="4" fill="#fff"/>
<rect x="105" y="224" width="1" height="1" fill="#fff"/>
<rect x="107" y="224" width="1" height="1" fill="#fff"/>
<rect x="109" y="225" width="5" height="6" fill="#fff"/>
<rect x="111" y="233" width="1" height="4" fill="#fff"/>
<rect x="110" y="224" width="1" height="1" fill="#fff"/>
<rect x="112" y="224" width="1" height="1" fill="#fff"/>
<rect x="115" y="225" width="5" height="6" fill="#fff"/>
<rect x="117" y="233" width="1" height="4" fill="#fff"/>
<rect x="116" y="224" width="1" height="1" fill="#fff"/>
<rect x="118" y="224" width="1" height="1" fill="#fff"/>
<rect x="121" y="225" width="5" height="6" fill="#fff"/>
<rect x="123" y="233" width="1" height="4" fill="#fff"/>
<rect x="122" y="224" width="1" height="1" fill="#fff"/>
<rect x="124" y="224" width="1" height="1" fill="#fff"/>
<rect x="127" y="225" width="5" height="6" fill="#fff"/>
<rect x="129" y="233" width="1" height="4" fill="#fff"/>
<rect x="128" y="224" width="1" height="1" fill="#fff"/>
<rect x="130" y="224" width="1" height="1" fill="#fff"/>
<rect x="133" y="225" width="4" height="6" fill="#fff"/>
<rect x="135" y="233" width="1" height="4" fill="#fff"/>
<rect x="134" y="224" width="1" height="1" fill="#fff"/>
<rect x="136" y="224" width="1" height="1" fill="#fff"/>
<rect x="139" y="225" width="4" height="6" fill="#fff"/>
<rect x="140" y="233" width="1" height="4" fill="#fff"/>
<rect x="140" y="224" width="1" height="1" fill="#fff"/>
<rect x="142" y="224" width="1" height="1" fill="#fff"/>
<rect x="145" y="225" width="4" height="6" fill="#fff"/>
<rect x="146" y="233" width="1" height="4" fill="#fff"/>
<rect x="146" y="224" width="1" height="1" fill="#fff"/>
<rect x="148" y="224" width="1" height="1" fill="#fff"/>
<rect x="151" y="225" width="4" height="6" fill="#fff"/>
<rect x="152" y="233" width="1" height="4" fill="#fff"/>
<rect x="152" y="224" width="1" height="1" fill="#fff"/>
<rect x="154" y="224" width="1" height="1" fill="#fff"/>
<rect x="157" y="225" width="4" height="6" fill="#fff"/>
<rect x="158" y="233" width="1" height="4" fill="#fff"/>
<rect x="158" y="224" width="1" height="1" fill="#fff"/>
<rect x="160" y="224" width="1" height="1" fill="#fff"/>
<rect x="162" y="225" width="5" height="6" fill="#fff"/>
<rect x="164" y="233" width="1" height="4" fill="#fff"/>
<rect x="163" y="224" width="1" height="1" fill="#fff"/>
<rect x="165" y="224" width="1" height="1" fill="#fff"/>
<rect x="168" y="225" width="5" height="6" fill="#fff"/>
<rect x="170" y="233" width="1" height="4" fill="#fff"/>
<rect x="169" y="224" width="1" height="1" fill="#fff"/>
<rect x="171" y="224" width="1" height="1" fill="#fff"/>
<rect x="174" y="225" width="5" height="6" fill="#fff"/>
<rect x="176" y="233" width="1" height="4" fill="#fff"/>
<rect x="175" y="224" width="1" height="1" fill="#fff"/>
<rect x="177" y="224" width="1" height="1" fill="#fff"/>
<rect x="180" y="225" width="4" height="6" fill="#fff"/>
<rect x="182" y="233" width="1" height="4" fill="#fff"/>
<rect x="181" y="224" width="1" height="1" fill="#fff"/>
<rect x="183" y="224" width="1" height="1" fill="#fff"/>
<rect x="186" y="225" width="4" height="6" fill="#fff"/>
<rect x="188" y="233" width="1" height="4" fill="#fff"/>
<rect x="187" y="224" width="1" height="1" fill="#fff"/>
<rect x="189" y="224" width="1" height="1" fill="#fff"/>
<rect x="192" y="225" width="4" height="6" fill="#fff"/>
<rect x="193" y="233" width="1" height="4" fill="#fff"/>
<rect x="193" y="224" width="1" height="1" fill="#fff"/>
<rect x="195" y="224" width="1" height="1" fill="#fff"/>
<rect x="198" y="225" width="4" height="6" fill="#fff"/>
<rect x="199" y="233" width="1" height="4" fill="#fff"/>
<rect x="199" y="224" width="1" height="1" fill="#fff"/>
<rect x="201" y="224" width="1" height="1" fill="#fff"/>
<rect x="204" y="225" width="4" height="6" fill="#fff"/>
<rect x="205" y="233" width="1" height="4" fill="#fff"/>
<rect x="205" y="224" width="1" height="1" fill="#fff"/>
<rect x="207" y="224" width="1" height="1" fill="#fff"/>
<rect x="210" y="225" width="4" height="6" fill="#fff"/>
<rect x="211" y="233" width="1" height="4" fill="#fff"/>
<rect x="211" y="224" width="1" height="1" fill="#fff"/>
<rect x="213" y="224" width="1" height="1" fill="#fff"/>
<rect x="215" y="225" width="5" height="6" fill="#fff"/>
<rect x="217" y="233" width="1" height="4" fill="#fff"/>
<rect x="216" y="224" width="1" height="1" fill="#fff"/>
<rect x="218" y="224" width="1" height="1" fill="#fff"/>
<rect x="221" y="225" width="5" height="6" fill="#fff"/>
<rect x="223" y="233" width="1" height="4" fill="#fff"/>
<rect x="222" y="224" width="1" height="1" fill="#fff"/>
<rect x="224" y="224" width="1" height="1" fill="#fff"/>
<rect x="227" y="225" width="5" height="6" fill="#fff"/>
<rect x="229" y="233" width="1" height="4" fill="#fff"/>
<rect x="228" y="224" width="1" height="1" fill="#fff"/>
<rect x="230" y="224" width="1" height="1" fill="#fff"/>
<rect x="233" y="225" width="4" height="6" fill="#fff"/>
<rect x="235" y="233" width="1" height="4" fill="#fff"/>
<rect x="234" y="224" width="1" height="1" fill="#fff"/>
<rect x="236" y="224" width="1" height="1" fill="#fff"/>
<rect x="239" y="225" width="4" height="6" fill="#fff"/>
<rect x="241" y="233" width="1" height="4" fill="#fff"/>
<rect x="240" y="224" width="1" height="1" fill="#fff"/>
<rect x="242" y="224" width="1" height="1" fill="#fff"/>
<rect x="245" y="225" width="4" height="6" fill="#fff"/>
<rect x="246" y="233" width="1" height="4" fill="#fff"/>
<rect x="246" y="224" width="1" height="1" fill="#fff"/>
<rect x="248" y="224" width="1" height="1" fill="#fff"/>
<rect x="251" y="225" width="4" height="6" fill="#fff"/>
<rect x="252" y="233" width="1" height="4" fill="#fff"/>
<rect x="252" y="224" width="1" height="1" fill="#fff"/>
<rect x="254" y="224" width="1" height="1" fill="#fff"/>
<rect x="257" y="225" width="4" height="6" fill="#fff"/>
<rect x="258" y="233" width="1" height="4" fill="#fff"/>
<rect x="258" y="224" width="1" height="1" fill="#fff"/>
<rect x="260" y="224" width="1" height="1" fill="#fff"/>
<rect x="74" y="223" width="10" height="10" fill="#000"/>
<rect x="75" y="224" width="8" height="8" fill="#fff"/>
<rect x="74" y="230" width="8" height="9" fill="#000"/>
<rect x="75" y="231" width="6" height="7" fill="#fff"/>
<rect x="74" y="231" width="3" height="3" fill="#000"/>
<rect x="268" y="223" width="10" height="10" fill="#000"/>
<rect x="269" y="224" width="8" height="8" fill="#fff"/>
<rect x="270" y="230" width="8" height="9" fill="#000"/>
<rect x="271" y="231" width="6" height="7" fill="#fff"/>
<rect x="275" y="231" width="3" height="3" fill="#000"/>
<rect x="70" y="215" width="16" height="8" fill="#000"/>
<rect x="71" y="216" width="14" height="6" fill="#fff"/>
<rect x="89" y="215" width="30" height="8" fill="#000"/>
<rect x="90" y="216" width="28" height="6" fill="#fff"/>
<rect x="124" y="215" width="30" height="8" fill="#000"/>
<rect x="125" y="216" width="28" height="6" fill="#fff"/>
<rect x="162" y="215" width="31" height="8" fill="#000"/>
<rect x="163" y="216" width="29" height="6" fill="#fff"/>
<rect x="199" y="215" width="30" height="8" fill="#000"/>
<rect x="200" y="216" width="28" height="6" fill="#fff"/>
<rect x="235" y="215" width="31" height="8" fill="#000"/>
<rect x="236" y="216" width="29" height="6" fill="#fff"/>
<rect x="268" y="215" width="15" height="8" fill="#000"/>
<rect x="269" y="216" width="13" height="6" fill="#fff"/>
<rect x="74" y="33" width="3" height="16" fill="#000"/>
<path d="M44,33H74L76,35V49L74,51H44L42,49V35Z" fill="#000"/>
<path d="M45,35H73L74,36V48L73,49H45L44,48V36Z" fill="#fff"/>
<rect x="26" y="59" width="11" height="61" fill="#000"/>
<rect x="27" y="60" width="9" height="2" fill="#fff"/>
<rect x="33" y="63" width="3" height="2" fill="#fff"/>
<rect x="28" y="67" width="8" height="1.5" fill="#fff"/>
<rect x="28" y="71" width="8" height="1.5" fill="#fff"/>
<rect x="28" y="77" width="8" height="1.5" fill="#fff"/>
<rect x="28" y="84" width="8" height="1.5" fill="#fff"/>
<rect x="35" y="89" width="1" height="29" fill="#fff"/>
<rect x="28" y="90" width="7" height="1" fill="#fff"/>
<rect x="28" y="95" width="7" height="1" fill="#fff"/>
<rect x="28" y="100" width="7" height="1" fill="#fff"/>
<rect x="28" y="106" width="7" height="1" fill="#fff"/>
<rect x="28" y="111" width="7" height="1" fill="#fff"/>
<rect x="28" y="117" width="7" height="1" fill="#fff"/>
<path d="M149,82H204L206,84V98L204,100H149L147,98V84Z" fill="#000"/>
<path d="M150,84H203L204,85V97L203,98H150L149,97V85Z" fill="#fff"/>
<path d="M145,183H201L203,185V199L201,201H145L143,199V185Z" fill="#000"/>
<path d="M146,185H200L201,186V198L200,199H146L145,198V186Z" fill="#fff"/>
<rect x="25" y="146" width="14" height="7" fill="#000"/>
<rect x="26" y="147" width="12" height="5" fill="#fff"/>
<rect x="27" y="148" width="4" height="4" fill="#000"/>
<rect x="33" y="148" width="4" height="4" fill="#000"/>
<path d="M30,155H33V163L35.5,172.6H27.5L30,163Z" fill="#000"/>
<path d="M12,172H50.5L52.5,174V189L50.5,191H12L10,189V174Z" fill="#000"/>
<path d="M13,174H49.5L50.5,175V188L49.5,189H13L12,188V175Z" fill="#fff"/>
<rect x="315" y="51" width="88" height="41" fill="#000"/>
<rect x="317" y="53" width="4" height="1" fill="#fff"/>
<rect x="323" y="53" width="4" height="1" fill="#fff"/>
<rect x="330" y="53" width="3" height="1" fill="#fff"/>
<rect x="336" y="53" width="3" height="1" fill="#fff"/>
<rect x="342" y="53" width="4" height="1" fill="#fff"/>
<rect x="348" y="53" width="4" height="1" fill="#fff"/>
<rect x="354" y="53" width="4" height="1" fill="#fff"/>
<rect x="361" y="53" width="3" height="1" fill="#fff"/>
<rect x="367" y="53" width="4" height="1" fill="#fff"/>
<rect x="373" y="53" width="4" height="1" fill="#fff"/>
<rect x="380" y="53" width="3" height="1" fill="#fff"/>
<rect x="386" y="53" width="3" height="1" fill="#fff"/>
<rect x="392" y="53" width="4" height="1" fill="#fff"/>
<rect x="401" y="66" width="2" height="12" fill="#fff"/>
<rect x="339" y="65" width="40" height="14" fill="#fff"/>
<path d="M414,39H435L437,41V55.5L435,57.5H414L412,55.5V41Z" fill="#000"/>
<path d="M415,41H434L435,42V54.5L434,55.5H415L414,54.5V42Z" fill="#fff"/>
<rect x="324.5" y="132" width="59" height="59" fill="#000"/>
<rect x="325" y="129" width="56" height="3" fill="#000"/>
<rect x="321" y="135" width="3.5" height="57" fill="#000"/>
<rect x="383.5" y="132.5" width="3.5" height="57" fill="#000"/>
<rect x="327" y="191" width="57.5" height="4" fill="#000"/>
<rect x="330" y="129" width="1" height="3" fill="#fff"/>
<rect x="332" y="129" width="1" height="3" fill="#fff"/>
<rect x="347" y="129" width="1" height="3" fill="#fff"/>
<rect x="350" y="129" width="1" height="3" fill="#fff"/>
<rect x="362" y="129" width="1" height="3" fill="#fff"/>
<rect x="364" y="129" width="1" height="3" fill="#fff"/>
<rect x="366" y="129" width="1" height="3" fill="#fff"/>
<rect x="378" y="129" width="1" height="3" fill="#fff"/>
<rect x="332" y="191" width="1" height="4" fill="#fff"/>
<rect x="334" y="191" width="1" height="4" fill="#fff"/>
<rect x="337" y="191" width="1" height="4" fill="#fff"/>
<rect x="352" y="191" width="1" height="4" fill="#fff"/>
<rect x="354" y="191" width="1" height="4" fill="#fff"/>
<rect x="367" y="191" width="1" height="4" fill="#fff"/>
<rect x="370" y="191" width="1" height="4" fill="#fff"/>
<rect x="372" y="191" width="1" height="4" fill="#fff"/>
<rect x="375" y="191" width="1" height="4" fill="#fff"/>
<rect x="321" y="137" width="3.5" height="1" fill="#fff"/>
<rect x="321" y="140" width="3.5" height="1" fill="#fff"/>
<rect x="321" y="151" width="3.5" height="1" fill="#fff"/>
<rect x="321" y="154" width="3.5" height="1" fill="#fff"/>
<rect x="321" y="157" width="3.5" height="1" fill="#fff"/>
<rect x="321" y="168" width="3.5" height="1" fill="#fff"/>
<rect x="321" y="171" width="3.5" height="1" fill="#fff"/>
<rect x="321" y="174" width="3.5" height="1" fill="#fff"/>
<rect x="321" y="188" width="3.5" height="1" fill="#fff"/>
<rect x="383.5" y="138" width="3.5" height="1" fill="#fff"/>
<rect x="383.5" y="140" width="3.5" height="1" fill="#fff"/>
<rect x="383.5" y="144" width="3.5" height="1" fill="#fff"/>
<rect x="383.5" y="146" width="3.5" height="1" fill="#fff"/>
<rect x="383.5" y="157" width="3.5" height="1" fill="#fff"/>
<rect x="383.5" y="160" width="3.5" height="1" fill="#fff"/>
<rect x="383.5" y="163" width="3.5" height="1" fill="#fff"/>
<rect x="383.5" y="175" width="3.5" height="1" fill="#fff"/>
<rect x="383.5" y="177" width="3.5" height="1" fill="#fff"/>
<rect x="383.5" y="180" width="3.5" height="1" fill="#fff"/>
<rect x="383.5" y="186" width="3.5" height="1" fill="#fff"/>
<rect x="169.5" y="259" width="59" height="59" fill="#000"/>
<rect x="170" y="256" width="56" height="3" fill="#000"/>
<rect x="166" y="262" width="3.5" height="57" fill="#000"/>
<rect x="228.5" y="259.5" width="3.5" height="57" fill="#000"/>
<rect x="172" y="318" width="57.5" height="4" fill="#000"/>
<rect x="176" y="256" width="1" height="3" fill="#fff"/>
<rect x="178" y="256" width="1" height="3" fill="#fff"/>
<rect x="180" y="256" width="1" height="3" fill="#fff"/>
<rect x="192" y="256" width="1" height="3" fill="#fff"/>
<rect x="194" y="256" width="1" height="3" fill="#fff"/>
<rect x="197" y="256" width="1" height="3" fill="#fff"/>
<rect x="207" y="256" width="1" height="3" fill="#fff"/>
<rect x="209" y="256" width="1" height="3" fill="#fff"/>
<rect x="212" y="256" width="1" height="3" fill="#fff"/>
<rect x="215" y="256" width="1" height="3" fill="#fff"/>
<rect x="180" y="318" width="1" height="4" fill="#fff"/>
<rect x="183" y="318" width="1" height="4" fill="#fff"/>
<rect x="185" y="318" width="1" height="4" fill="#fff"/>
<rect x="197" y="318" width="1" height="4" fill="#fff"/>
<rect x="200" y="318" width="1" height="4" fill="#fff"/>
<rect x="202" y="318" width="1" height="4" fill="#fff"/>
<rect x="212" y="318" width="1" height="4" fill="#fff"/>
<rect x="214" y="318" width="1" height="4" fill="#fff"/>
<rect x="217" y="318" width="1" height="4" fill="#fff"/>
<rect x="220" y="318" width="1" height="4" fill="#fff"/>
<rect x="166" y="267" width="3.5" height="1" fill="#fff"/>
<rect x="166" y="269" width="3.5" height="1" fill="#fff"/>
<rect x="166" y="281" width="3.5" height="1" fill="#fff"/>
<rect x="166" y="284" width="3.5" height="1" fill="#fff"/>
<rect x="166" y="286" width="3.5" height="1" fill="#fff"/>
<rect x="166" y="289" width="3.5" height="1" fill="#fff"/>
<rect x="166" y="301" width="3.5" height="1" fill="#fff"/>
<rect x="166" y="304" width="3.5" height="1" fill="#fff"/>
<rect x="166" y="306" width="3.5" height="1" fill="#fff"/>
<rect x="166" y="309" width="3.5" height="1" fill="#fff"/>
<rect x="228.5" y="273" width="3.5" height="1" fill="#fff"/>
<rect x="228.5" y="276" width="3.5" height="1" fill="#fff"/>
<rect x="228.5" y="278" width="3.5" height="1" fill="#fff"/>
<rect x="228.5" y="290" width="3.5" height="1" fill="#fff"/>
<rect x="228.5" y="292" width="3.5" height="1" fill="#fff"/>
<rect x="228.5" y="295" width="3.5" height="1" fill="#fff"/>
<rect x="228.5" y="307" width="3.5" height="1" fill="#fff"/>
<rect x="228.5" y="309" width="3.5" height="1" fill="#fff"/>
<rect x="228.5" y="312" width="3.5" height="1" fill="#fff"/>
<rect x="498.5" y="420" width="59" height="59" fill="#000"/>
<rect x="499" y="417" width="56" height="3" fill="#000"/>
<rect x="495" y="423" width="3.5" height="57" fill="#000"/>
<rect x="557.5" y="420.5" width="3.5" height="57" fill="#000"/>
<rect x="501" y="479" width="57.5" height="4" fill="#000"/>
<rect x="509" y="417" width="1" height="3" fill="#fff"/>
<rect x="512" y="417" width="1" height="3" fill="#fff"/>
<rect x="514" y="417" width="1" height="3" fill="#fff"/>
<rect x="526" y="417" width="1" height="3" fill="#fff"/>
<rect x="529" y="417" width="1" height="3" fill="#fff"/>
<rect x="531" y="417" width="1" height="3" fill="#fff"/>
<rect x="543" y="417" width="1" height="3" fill="#fff"/>
<rect x="546" y="417" width="1" height="3" fill="#fff"/>
<rect x="548" y="417" width="1" height="3" fill="#fff"/>
<rect x="501" y="479" width="1" height="4" fill="#fff"/>
<rect x="503" y="479" width="1" height="4" fill="#fff"/>
<rect x="515" y="479" width="1" height="4" fill="#fff"/>
<rect x="517" y="479" width="1" height="4" fill="#fff"/>
<rect x="520" y="479" width="1" height="4" fill="#fff"/>
<rect x="532" y="479" width="1" height="4" fill="#fff"/>
<rect x="535" y="479" width="1" height="4" fill="#fff"/>
<rect x="537" y="479" width="1" height="4" fill="#fff"/>
<rect x="549" y="479" width="1" height="4" fill="#fff"/>
<rect x="552" y="479" width="1" height="4" fill="#fff"/>
<rect x="554" y="479" width="1" height="4" fill="#fff"/>
<rect x="495" y="428" width="3.5" height="1" fill="#fff"/>
<rect x="495" y="430" width="3.5" height="1" fill="#fff"/>
<rect x="495" y="433" width="3.5" height="1" fill="#fff"/>
<rect x="495" y="443" width="3.5" height="1" fill="#fff"/>
<rect x="495" y="446" width="3.5" height="1" fill="#fff"/>
<rect x="495" y="448" width="3.5" height="1" fill="#fff"/>
<rect x="495" y="462" width="3.5" height="1" fill="#fff"/>
<rect x="495" y="464" width="3.5" height="1" fill="#fff"/>
<rect x="495" y="467" width="3.5" height="1" fill="#fff"/>
<rect x="495" y="470" width="3.5" height="1" fill="#fff"/>
<rect x="495" y="477" width="3.5" height="1" fill="#fff"/>
<rect x="495" y="480" width="3.5" height="1" fill="#fff"/>
<rect x="557.5" y="434" width="3.5" height="1" fill="#fff"/>
<rect x="557.5" y="437" width="3.5" height="1" fill="#fff"/>
<rect x="557.5" y="439" width="3.5" height="1" fill="#fff"/>
<rect x="557.5" y="452" width="3.5" height="1" fill="#fff"/>
<rect x="557.5" y="454" width="3.5" height="1" fill="#fff"/>
<rect x="557.5" y="457" width="3.5" height="1" fill="#fff"/>
<rect x="557.5" y="468" width="3.5" height="1" fill="#fff"/>
<rect x="557.5" y="471" width="3.5" height="1" fill="#fff"/>
<rect x="557.5" y="473" width="3.5" height="1" fill="#fff"/>
<rect x="150" y="263" width="7" height="13" fill="#000"/>
<rect x="151" y="269" width="5" height="1" fill="#fff"/>
<rect x="151" y="274" width="5" height="1" fill="#fff"/>
<path d="M116,285H147.5L149.5,287V301.5L147.5,303.5H116L114,301.5V287Z" fill="#000"/>
<path d="M117,287H146.5L147.5,288V300.5L146.5,301.5H117L116,300.5V288Z" fill="#fff"/>
<rect x="324" y="265" width="79" height="80" fill="#000"/>
<rect x="326" y="269" width="4" height="2" fill="#fff"/>
<rect x="327" y="268" width="2" height="4" fill="#fff"/>
<rect x="332" y="269" width="4" height="2" fill="#fff"/>
<rect x="333" y="268" width="2" height="4" fill="#fff"/>
<rect x="338" y="269" width="4" height="2" fill="#fff"/>
<rect x="339" y="268" width="2" height="4" fill="#fff"/>
<rect x="344" y="269" width="4" height="2" fill="#fff"/>
<rect x="345" y="268" width="2" height="4" fill="#fff"/>
<rect x="350" y="269" width="4" height="2" fill="#fff"/>
<rect x="351" y="268" width="2" height="4" fill="#fff"/>
<rect x="356" y="269" width="4" height="2" fill="#fff"/>
<rect x="357" y="268" width="2" height="4" fill="#fff"/>
<rect x="362" y="269" width="4" height="2" fill="#fff"/>
<rect x="363" y="268" width="2" height="4" fill="#fff"/>
<rect x="368" y="269" width="4" height="2" fill="#fff"/>
<rect x="369" y="268" width="2" height="4" fill="#fff"/>
<rect x="374" y="269" width="4" height="2" fill="#fff"/>
<rect x="375" y="268" width="2" height="4" fill="#fff"/>
<rect x="380" y="269" width="4" height="2" fill="#fff"/>
<rect x="381" y="268" width="2" height="4" fill="#fff"/>
<rect x="386" y="269" width="4" height="2" fill="#fff"/>
<rect x="387" y="268" width="2" height="4" fill="#fff"/>
<rect x="392" y="269" width="4" height="2" fill="#fff"/>
<rect x="393" y="268" width="2" height="4" fill="#fff"/>
<rect x="398" y="269" width="4" height="2" fill="#fff"/>
<rect x="399" y="268" width="2" height="4" fill="#fff"/>
<rect x="326" y="275" width="4" height="2" fill="#fff"/>
<rect x="327" y="274" width="2" height="4" fill="#fff"/>
<rect x="332" y="275" width="4" height="2" fill="#fff"/>
<rect x="333" y="274" width="2" height="4" fill="#fff"/>
<rect x="338" y="275" width="4" height="2" fill="#fff"/>
<rect x="339" y="274" width="2" height="4" fill="#fff"/>
<rect x="344" y="275" width="4" height="2" fill="#fff"/>
<rect x="345" y="274" width="2" height="4" fill="#fff"/>
<rect x="350" y="275" width="4" height="2" fill="#fff"/>
<rect x="351" y="274" width="2" height="4" fill="#fff"/>
<rect x="356" y="275" width="4" height="2" fill="#fff"/>
<rect x="357" y="274" width="2" height="4" fill="#fff"/>
<rect x="362" y="275" width="4" height="2" fill="#fff"/>
<rect x="363" y="274" width="2" height="4" fill="#fff"/>
<rect x="368" y="275" width="4" height="2" fill="#fff"/>
<rect x="369" y="274" width="2" height="4" fill="#fff"/>
<rect x="374" y="275" width="4" height="2" fill="#fff"/>
<rect x="375" y="274" width="2" height="4" fill="#fff"/>
<rect x="380" y="275" width="4" height="2" fill="#fff"/>
<rect x="381" y="274" width="2" height="4" fill="#fff"/>
<rect x="386" y="275" width="4" height="2" fill="#fff"/>
<rect x="387" y="274" width="2" height="4" fill="#fff"/>
<rect x="392" y="275" width="4" height="2" fill="#fff"/>
<rect x="393" y="274" width="2" height="4" fill="#fff"/>
<rect x="398" y="275" width="4" height="2" fill="#fff"/>
<rect x="399" y="274" width="2" height="4" fill="#fff"/>
<rect x="326" y="281" width="4" height="2" fill="#fff"/>
<rect x="327" y="280" width="2" height="4" fill="#fff"/>
<rect x="332" y="281" width="4" height="2" fill="#fff"/>
<rect x="333" y="280" width="2" height="4" fill="#fff"/>
<rect x="338" y="281" width="4" height="2" fill="#fff"/>
<rect x="339" y="280" width="2" height="4" fill="#fff"/>
<rect x="344" y="281" width="4" height="2" fill="#fff"/>
<rect x="345" y="280" width="2" height="4" fill="#fff"/>
<rect x="350" y="281" width="4" height="2" fill="#fff"/>
<rect x="351" y="280" width="2" height="4" fill="#fff"/>
<rect x="356" y="281" width="4" height="2" fill="#fff"/>
<rect x="357" y="280" width="2" height="4" fill="#fff"/>
<rect x="362" y="281" width="4" height="2" fill="#fff"/>
<rect x="363" y="280" width="2" height="4" fill="#fff"/>
<rect x="368" y="281" width="4" height="2" fill="#fff"/>
<rect x="369" y="280" width="2" height="4" fill="#fff"/>
<rect x="374" y="281" width="4" height="2" fill="#fff"/>
<rect x="375" y="280" width="2" height="4" fill="#fff"/>
<rect x="380" y="281" width="4" height="2" fill="#fff"/>
<rect x="381" y="280" width="2" height="4" fill="#fff"/>
<rect x="386" y="281" width="4" height="2" fill="#fff"/>
<rect x="387" y="280" width="2" height="4" fill="#fff"/>
<rect x="392" y="281" width="4" height="2" fill="#fff"/>
<rect x="393" y="280" width="2" height="4" fill="#fff"/>
<rect x="398" y="281" width="4" height="2" fill="#fff"/>
<rect x="399" y="280" width="2" height="4" fill="#fff"/>
<rect x="326" y="287" width="4" height="2" fill="#fff"/>
<rect x="327" y="286" width="2" height="4" fill="#fff"/>
<rect x="332" y="287" width="4" height="2" fill="#fff"/>
<rect x="333" y="286" width="2" height="4" fill="#fff"/>
<rect x="338" y="287" width="4" height="2" fill="#fff"/>
<rect x="339" y="286" width="2" height="4" fill="#fff"/>
<rect x="386" y="287" width="4" height="2" fill="#fff"/>
<rect x="387" y="286" width="2" height="4" fill="#fff"/>
<rect x="392" y="287" width="4" height="2" fill="#fff"/>
<rect x="393" y="286" width="2" height="4" fill="#fff"/>
<rect x="398" y="287" width="4" height="2" fill="#fff"/>
<rect x="399" y="286" width="2" height="4" fill="#fff"/>
<rect x="326" y="293" width="4" height="2" fill="#fff"/>
<rect x="327" y="292" width="2" height="4" fill="#fff"/>
<rect x="332" y="293" width="4" height="2" fill="#fff"/>
<rect x="333" y="292" width="2" height="4" fill="#fff"/>
<rect x="338" y="293" width="4" height="2" fill="#fff"/>
<rect x="339" y="292" width="2" height="4" fill="#fff"/>
<rect x="386" y="293" width="4" height="2" fill="#fff"/>
<rect x="387" y="292" width="2" height="4" fill="#fff"/>
<rect x="392" y="293" width="4" height="2" fill="#fff"/>
<rect x="393" y="292" width="2" height="4" fill="#fff"/>
<rect x="398" y="293" width="4" height="2" fill="#fff"/>
<rect x="399" y="292" width="2" height="4" fill="#fff"/>
<rect x="326" y="299" width="4" height="2" fill="#fff"/>
<rect x="327" y="298" width="2" height="4" fill="#fff"/>
<rect x="332" y="299" width="4" height="2" fill="#fff"/>
<rect x="333" y="298" width="2" height="4" fill="#fff"/>
<rect x="338" y="299" width="4" height="2" fill="#fff"/>
<rect x="339" y="298" width="2" height="4" fill="#fff"/>
<rect x="386" y="299" width="4" height="2" fill="#fff"/>
<rect x="387" y="298" width="2" height="4" fill="#fff"/>
<rect x="392" y="299" width="4" height="2" fill="#fff"/>
<rect x="393" y="298" width="2" height="4" fill="#fff"/>
<rect x="398" y="299" width="4" height="2" fill="#fff"/>
<rect x="399" y="298" width="2" height="4" fill="#fff"/>
<rect x="326" y="305" width="4" height="2" fill="#fff"/>
<rect x="327" y="304" width="2" height="4" fill="#fff"/>
<rect x="332" y="305" width="4" height="2" fill="#fff"/>
<rect x="333" y="304" width="2" height="4" fill="#fff"/>
<rect x="338" y="305" width="4" height="2" fill="#fff"/>
<rect x="339" y="304" width="2" height="4" fill="#fff"/>
<rect x="386" y="305" width="4" height="2" fill="#fff"/>
<rect x="387" y="304" width="2" height="4" fill="#fff"/>
<rect x="392" y="305" width="4" height="2" fill="#fff"/>
<rect x="393" y="304" width="2" height="4" fill="#fff"/>
<rect x="398" y="305" width="4" height="2" fill="#fff"/>
<rect x="399" y="304" width="2" height="4" fill="#fff"/>
<rect x="326" y="311" width="4" height="2" fill="#fff"/>
<rect x="327" y="310" width="2" height="4" fill="#fff"/>
<rect x="332" y="311" width="4" height="2" fill="#fff"/>
<rect x="333" y="310" width="2" height="4" fill="#fff"/>
<rect x="338" y="311" width="4" height="2" fill="#fff"/>
<rect x="339" y="310" width="2" height="4" fill="#fff"/>
<rect x="386" y="311" width="4" height="2" fill="#fff"/>
<rect x="387" y="310" width="2" height="4" fill="#fff"/>
<rect x="392" y="311" width="4" height="2" fill="#fff"/>
<rect x="393" y="310" width="2" height="4" fill="#fff"/>
<rect x="398" y="311" width="4" height="2" fill="#fff"/>
<rect x="399" y="310" width="2" height="4" fill="#fff"/>
<rect x="326" y="317" width="4" height="2" fill="#fff"/>
<rect x="327" y="316" width="2" height="4" fill="#fff"/>
<rect x="332" y="317" width="4" height="2" fill="#fff"/>
<rect x="333" y="316" width="2" height="4" fill="#fff"/>
<rect x="338" y="317" width="4" height="2" fill="#fff"/>
<rect x="339" y="316" width="2" height="4" fill="#fff"/>
<rect x="386" y="317" width="4" height="2" fill="#fff"/>
<rect x="387" y="316" width="2" height="4" fill="#fff"/>
<rect x="392" y="317" width="4" height="2" fill="#fff"/>
<rect x="393" y="316" width="2" height="4" fill="#fff"/>
<rect x="398" y="317" width="4" height="2" fill="#fff"/>
<rect x="399" y="316" width="2" height="4" fill="#fff"/>
<rect x="326" y="323" width="4" height="2" fill="#fff"/>
<rect x="327" y="322" width="2" height="4" fill="#fff"/>
<rect x="332" y="323" width="4" height="2" fill="#fff"/>
<rect x="333" y="322" width="2" height="4" fill="#fff"/>
<rect x="338" y="323" width="4" height="2" fill="#fff"/>
<rect x="339" y="322" width="2" height="4" fill="#fff"/>
<rect x="386" y="323" width="4" height="2" fill="#fff"/>
<rect x="387" y="322" width="2" height="4" fill="#fff"/>
<rect x="392" y="323" width="4" height="2" fill="#fff"/>
<rect x="393" y="322" width="2" height="4" fill="#fff"/>
<rect x="398" y="323" width="4" height="2" fill="#fff"/>
<rect x="399" y="322" width="2" height="4" fill="#fff"/>
<rect x="326" y="329" width="4" height="2" fill="#fff"/>
<rect x="327" y="328" width="2" height="4" fill="#fff"/>
<rect x="332" y="329" width="4" height="2" fill="#fff"/>
<rect x="333" y="328" width="2" height="4" fill="#fff"/>
<rect x="338" y="329" width="4" height="2" fill="#fff"/>
<rect x="339" y="328" width="2" height="4" fill="#fff"/>
<rect x="344" y="329" width="4" height="2" fill="#fff"/>
<rect x="345" y="328" width="2" height="4" fill="#fff"/>
<rect x="350" y="329" width="4" height="2" fill="#fff"/>
<rect x="351" y="328" width="2" height="4" fill="#fff"/>
<rect x="356" y="329" width="4" height="2" fill="#fff"/>
<rect x="357" y="328" width="2" height="4" fill="#fff"/>
<rect x="362" y="329" width="4" height="2" fill="#fff"/>
<rect x="363" y="328" width="2" height="4" fill="#fff"/>
<rect x="368" y="329" width="4" height="2" fill="#fff"/>
<rect x="369" y="328" width="2" height="4" fill="#fff"/>
<rect x="374" y="329" width="4" height="2" fill="#fff"/>
<rect x="375" y="328" width="2" height="4" fill="#fff"/>
<rect x="380" y="329" width="4" height="2" fill="#fff"/>
<rect x="381" y="328" width="2" height="4" fill="#fff"/>
<rect x="386" y="329" width="4" height="2" fill="#fff"/>
<rect x="387" y="328" width="2" height="4" fill="#fff"/>
<rect x="392" y="329" width="4" height="2" fill="#fff"/>
<rect x="393" y="328" width="2" height="4" fill="#fff"/>
<rect x="398" y="329" width="4" height="2" fill="#fff"/>
<rect x="399" y="328" width="2" height="4" fill="#fff"/>
<rect x="326" y="335" width="4" height="2" fill="#fff"/>
<rect x="327" y="334" width="2" height="4" fill="#fff"/>
<rect x="332" y="335" width="4" height="2" fill="#fff"/>
<rect x="333" y="334" width="2" height="4" fill="#fff"/>
<rect x="338" y="335" width="4" height="2" fill="#fff"/>
<rect x="339" y="334" width="2" height="4" fill="#fff"/>
<rect x="344" y="335" width="4" height="2" fill="#fff"/>
<rect x="345" y="334" width="2" height="4" fill="#fff"/>
<rect x="350" y="335" width="4" height="2" fill="#fff"/>
<rect x="351" y="334" width="2" height="4" fill="#fff"/>
<rect x="356" y="335" width="4" height="2" fill="#fff"/>
<rect x="357" y="334" width="2" height="4" fill="#fff"/>
<rect x="362" y="335" width="4" height="2" fill="#fff"/>
<rect x="363" y="334" width="2" height="4" fill="#fff"/>
<rect x="368" y="335" width="4" height="2" fill="#fff"/>
<rect x="369" y="334" width="2" height="4" fill="#fff"/>
<rect x="374" y="335" width="4" height="2" fill="#fff"/>
<rect x="375" y="334" width="2" height="4" fill="#fff"/>
<rect x="380" y="335" width="4" height="2" fill="#fff"/>
<rect x="381" y="334" width="2" height="4" fill="#fff"/>
<rect x="386" y="335" width="4" height="2" fill="#fff"/>
<rect x="387" y="334" width="2" height="4" fill="#fff"/>
<rect x="392" y="335" width="4" height="2" fill="#fff"/>
<rect x="393" y="334" width="2" height="4" fill="#fff"/>
<rect x="398" y="335" width="4" height="2" fill="#fff"/>
<rect x="399" y="334" width="2" height="4" fill="#fff"/>
<rect x="326" y="341" width="4" height="2" fill="#fff"/>
<rect x="327" y="340" width="2" height="4" fill="#fff"/>
<rect x="332" y="341" width="4" height="2" fill="#fff"/>
<rect x="333" y="340" width="2" height="4" fill="#fff"/>
<rect x="338" y="341" width="4" height="2" fill="#fff"/>
<rect x="339" y="340" width="2" height="4" fill="#fff"/>
<rect x="344" y="341" width="4" height="2" fill="#fff"/>
<rect x="345" y="340" width="2" height="4" fill="#fff"/>
<rect x="350" y="341" width="4" height="2" fill="#fff"/>
<rect x="351" y="340" width="2" height="4" fill="#fff"/>
<rect x="356" y="341" width="4" height="2" fill="#fff"/>
<rect x="357" y="340" width="2" height="4" fill="#fff"/>
<rect x="362" y="341" width="4" height="2" fill="#fff"/>
<rect x="363" y="340" width="2" height="4" fill="#fff"/>
<rect x="368" y="341" width="4" height="2" fill="#fff"/>
<rect x="369" y="340" width="2" height="4" fill="#fff"/>
<rect x="374" y="341" width="4" height="2" fill="#fff"/>
<rect x="375" y="340" width="2" height="4" fill="#fff"/>
<rect x="380" y="341" width="4" height="2" fill="#fff"/>
<rect x="381" y="340" width="2" height="4" fill="#fff"/>
<rect x="386" y="341" width="4" height="2" fill="#fff"/>
<rect x="387" y="340" width="2" height="4" fill="#fff"/>
<rect x="392" y="341" width="4" height="2" fill="#fff"/>
<rect x="393" y="340" width="2" height="4" fill="#fff"/>
<rect x="398" y="341" width="4" height="2" fill="#fff"/>
<rect x="399" y="340" width="2" height="4" fill="#fff"/>
<rect x="346" y="288" width="35" height="35" fill="#fff"/>
<path d="M349,296H378L380,298V313L378,315H349L347,313V298Z" fill="#000"/>
<path d="M350,298H377L378,299V312L377,313H350L349,312V299Z" fill="#fff"/>
<circle cx="349.5" cy="318.5" r="2.4" fill="#000" shape-rendering="auto"/>
<path d="M376,217H406L408,219V234L406,236H376L374,234V219Z" fill="#000"/>
<path d="M377,219H405L406,220V233L405,234H377L376,233V220Z" fill="#fff"/>
<rect x="418" y="240" width="20" height="7" fill="#000"/>
<rect x="419" y="241" width="1" height="5" fill="#fff"/>
<rect x="421" y="242" width="3" height="3" fill="#fff"/>
<rect x="425" y="241" width="1" height="5" fill="#fff"/>
<rect x="430" y="241" width="2" height="5" fill="#fff"/>
<rect x="436" y="241" width="1" height="5" fill="#fff"/>
<rect x="361" y="393" width="75" height="76" fill="#000"/>
<path d="M385,424H412L413,425V437L412,438H385L384,437V425Z" fill="#fff"/>
<rect x="33" y="310" width="10" height="25" fill="#000"/>
<rect x="84.5" y="310" width="9.5" height="25" fill="#000"/>
<rect x="35" y="312" width="4" height="5" fill="#fff"/>
<rect x="38" y="320" width="2" height="5" fill="#fff"/>
<rect x="35" y="328" width="4" height="5" fill="#fff"/>
<rect x="88" y="312" width="3" height="5" fill="#fff"/>
<rect x="88" y="328" width="3" height="5" fill="#fff"/>
<path d="M94,319L91.5,322L94,325Z" fill="#fff"/>
<path d="M44.5,305.5H82.5L85,308.0V335.5L82.5,338H44.5L42,335.5V308.0Z" fill="#000"/>
<path d="M45.5,307.5H81.5L83,309.0V334.5L81.5,336H45.5L44,334.5V309.0Z" fill="#fff"/>
<rect x="112" y="333" width="19" height="7" fill="#000"/>
<rect x="117" y="334" width="2" height="5" fill="#fff"/>
<rect x="123" y="334" width="1" height="5" fill="#fff"/>
<rect x="125" y="335" width="3" height="3" fill="#fff"/>
<rect x="129" y="334" width="1" height="5" fill="#fff"/>
<path d="M69,345H99L101,347V361.5L99,363.5H69L67,361.5V347Z" fill="#000"/>
<path d="M70,347H98L99,348V360.5L98,361.5H70L69,360.5V348Z" fill="#fff"/>
<rect x="45" y="377" width="85" height="25" fill="#000"/>
<rect x="48" y="380" width="3" height="5" fill="#fff"/>
<rect x="48" y="395" width="3" height="5" fill="#fff"/>
<rect x="54" y="380" width="3" height="5" fill="#fff"/>
<rect x="54" y="395" width="3" height="5" fill="#fff"/>
<rect x="60" y="380" width="3" height="5" fill="#fff"/>
<rect x="60" y="395" width="3" height="5" fill="#fff"/>
<rect x="66" y="380" width="3" height="5" fill="#fff"/>
<rect x="66" y="395" width="3" height="5" fill="#fff"/>
<rect x="72" y="380" width="3" height="5" fill="#fff"/>
<rect x="72" y="395" width="3" height="5" fill="#fff"/>
<rect x="77" y="380" width="3" height="5" fill="#fff"/>
<rect x="77" y="395" width="3" height="5" fill="#fff"/>
<rect x="83" y="380" width="3" height="5" fill="#fff"/>
<rect x="83" y="395" width="3" height="5" fill="#fff"/>
<rect x="89" y="380" width="3" height="5" fill="#fff"/>
<rect x="89" y="395" width="3" height="5" fill="#fff"/>
<rect x="95" y="380" width="3" height="5" fill="#fff"/>
<rect x="95" y="395" width="3" height="5" fill="#fff"/>
<rect x="101" y="380" width="3" height="5" fill="#fff"/>
<rect x="101" y="395" width="3" height="5" fill="#fff"/>
<rect x="107" y="380" width="3" height="5" fill="#fff"/>
<rect x="107" y="395" width="3" height="5" fill="#fff"/>
<rect x="112" y="380" width="3" height="5" fill="#fff"/>
<rect x="112" y="395" width="3" height="5" fill="#fff"/>
<rect x="118" y="380" width="3" height="5" fill="#fff"/>
<rect x="118" y="395" width="3" height="5" fill="#fff"/>
<rect x="124" y="380" width="3" height="5" fill="#fff"/>
<rect x="124" y="395" width="3" height="5" fill="#fff"/>
<rect x="51" y="387" width="32" height="5" fill="#fff"/>
<rect x="88" y="387" width="34" height="5" fill="#fff"/>
<path d="M130.5,387.7H126.8L127.1,390L130.5,392.2Z" fill="#fff"/>
<rect x="45" y="403" width="85" height="25" fill="#000"/>
<rect x="48" y="406" width="3" height="5" fill="#fff"/>
<rect x="48" y="421" width="3" height="5" fill="#fff"/>
<rect x="54" y="406" width="3" height="5" fill="#fff"/>
<rect x="54" y="421" width="3" height="5" fill="#fff"/>
<rect x="60" y="406" width="3" height="5" fill="#fff"/>
<rect x="60" y="421" width="3" height="5" fill="#fff"/>
<rect x="66" y="406" width="3" height="5" fill="#fff"/>
<rect x="66" y="421" width="3" height="5" fill="#fff"/>
<rect x="72" y="406" width="3" height="5" fill="#fff"/>
<rect x="72" y="421" width="3" height="5" fill="#fff"/>
<rect x="77" y="406" width="3" height="5" fill="#fff"/>
<rect x="77" y="421" width="3" height="5" fill="#fff"/>
<rect x="83" y="406" width="3" height="5" fill="#fff"/>
<rect x="83" y="421" width="3" height="5" fill="#fff"/>
<rect x="89" y="406" width="3" height="5" fill="#fff"/>
<rect x="89" y="421" width="3" height="5" fill="#fff"/>
<rect x="95" y="406" width="3" height="5" fill="#fff"/>
<rect x="95" y="421" width="3" height="5" fill="#fff"/>
<rect x="101" y="406" width="3" height="5" fill="#fff"/>
<rect x="101" y="421" width="3" height="5" fill="#fff"/>
<rect x="107" y="406" width="3" height="5" fill="#fff"/>
<rect x="107" y="421" width="3" height="5" fill="#fff"/>
<rect x="112" y="406" width="3" height="5" fill="#fff"/>
<rect x="112" y="421" width="3" height="5" fill="#fff"/>
<rect x="118" y="406" width="3" height="5" fill="#fff"/>
<rect x="118" y="421" width="3" height="5" fill="#fff"/>
<rect x="124" y="406" width="3" height="5" fill="#fff"/>
<rect x="124" y="421" width="3" height="5" fill="#fff"/>
<rect x="51" y="413" width="32" height="5" fill="#fff"/>
<rect x="88" y="413" width="34" height="5" fill="#fff"/>
<path d="M130.5,413.7H126.8L127.1,416L130.5,418.2Z" fill="#fff"/>
<rect x="45" y="429" width="85" height="25" fill="#000"/>
<rect x="48" y="432" width="3" height="5" fill="#fff"/>
<rect x="48" y="447" width="3" height="5" fill="#fff"/>
<rect x="54" y="432" width="3" height="5" fill="#fff"/>
<rect x="54" y="447" width="3" height="5" fill="#fff"/>
<rect x="60" y="432" width="3" height="5" fill="#fff"/>
<rect x="60" y="447" width="3" height="5" fill="#fff"/>
<rect x="66" y="432" width="3" height="5" fill="#fff"/>
<rect x="66" y="447" width="3" height="5" fill="#fff"/>
<rect x="72" y="432" width="3" height="5" fill="#fff"/>
<rect x="72" y="447" width="3" height="5" fill="#fff"/>
<rect x="77" y="432" width="3" height="5" fill="#fff"/>
<rect x="77" y="447" width="3" height="5" fill="#fff"/>
<rect x="83" y="432" width="3" height="5" fill="#fff"/>
<rect x="83" y="447" width="3" height="5" fill="#fff"/>
<rect x="89" y="432" width="3" height="5" fill="#fff"/>
<rect x="89" y="447" width="3" height="5" fill="#fff"/>
<rect x="95" y="432" width="3" height="5" fill="#fff"/>
<rect x="95" y="447" width="3" height="5" fill="#fff"/>
<rect x="101" y="432" width="3" height="5" fill="#fff"/>
<rect x="101" y="447" width="3" height="5" fill="#fff"/>
<rect x="107" y="432" width="3" height="5" fill="#fff"/>
<rect x="107" y="447" width="3" height="5" fill="#fff"/>
<rect x="112" y="432" width="3" height="5" fill="#fff"/>
<rect x="112" y="447" width="3" height="5" fill="#fff"/>
<rect x="118" y="432" width="3" height="5" fill="#fff"/>
<rect x="118" y="447" width="3" height="5" fill="#fff"/>
<rect x="124" y="432" width="3" height="5" fill="#fff"/>
<rect x="124" y="447" width="3" height="5" fill="#fff"/>
<rect x="51" y="439" width="32" height="5" fill="#fff"/>
<rect x="88" y="439" width="34" height="5" fill="#fff"/>
<path d="M130.5,439.7H126.8L127.1,442L130.5,444.2Z" fill="#fff"/>
<rect x="45" y="455" width="85" height="25" fill="#000"/>
<rect x="48" y="458" width="3" height="5" fill="#fff"/>
<rect x="48" y="473" width="3" height="5" fill="#fff"/>
<rect x="54" y="458" width="3" height="5" fill="#fff"/>
<rect x="54" y="473" width="3" height="5" fill="#fff"/>
<rect x="60" y="458" width="3" height="5" fill="#fff"/>
<rect x="60" y="473" width="3" height="5" fill="#fff"/>
<rect x="66" y="458" width="3" height="5" fill="#fff"/>
<rect x="66" y="473" width="3" height="5" fill="#fff"/>
<rect x="72" y="458" width="3" height="5" fill="#fff"/>
<rect x="72" y="473" width="3" height="5" fill="#fff"/>
<rect x="77" y="458" width="3" height="5" fill="#fff"/>
<rect x="77" y="473" width="3" height="5" fill="#fff"/>
<rect x="83" y="458" width="3" height="5" fill="#fff"/>
<rect x="83" y="473" width="3" height="5" fill="#fff"/>
<rect x="89" y="458" width="3" height="5" fill="#fff"/>
<rect x="89" y="473" width="3" height="5" fill="#fff"/>
<rect x="95" y="458" width="3" height="5" fill="#fff"/>
<rect x="95" y="473" width="3" height="5" fill="#fff"/>
<rect x="101" y="458" width="3" height="5" fill="#fff"/>
<rect x="101" y="473" width="3" height="5" fill="#fff"/>
<rect x="107" y="458" width="3" height="5" fill="#fff"/>
<rect x="107" y="473" width="3" height="5" fill="#fff"/>
<rect x="112" y="458" width="3" height="5" fill="#fff"/>
<rect x="112" y="473" width="3" height="5" fill="#fff"/>
<rect x="118" y="458" width="3" height="5" fill="#fff"/>
<rect x="118" y="473" width="3" height="5" fill="#fff"/>
<rect x="124" y="458" width="3" height="5" fill="#fff"/>
<rect x="124" y="473" width="3" height="5" fill="#fff"/>
<rect x="51" y="465" width="32" height="5" fill="#fff"/>
<rect x="88" y="465" width="34" height="5" fill="#fff"/>
<path d="M130.5,465.7H126.8L127.1,468L130.5,470.2Z" fill="#fff"/>
<rect x="134" y="391" width="84" height="25" fill="#000"/>
<rect x="137" y="394" width="3" height="5" fill="#fff"/>
<rect x="137" y="409" width="3" height="5" fill="#fff"/>
<rect x="143" y="394" width="3" height="5" fill="#fff"/>
<rect x="143" y="409" width="3" height="5" fill="#fff"/>
<rect x="149" y="394" width="3" height="5" fill="#fff"/>
<rect x="149" y="409" width="3" height="5" fill="#fff"/>
<rect x="155" y="394" width="3" height="5" fill="#fff"/>
<rect x="155" y="409" width="3" height="5" fill="#fff"/>
<rect x="161" y="394" width="3" height="5" fill="#fff"/>
<rect x="161" y="409" width="3" height="5" fill="#fff"/>
<rect x="166" y="394" width="3" height="5" fill="#fff"/>
<rect x="166" y="409" width="3" height="5" fill="#fff"/>
<rect x="172" y="394" width="3" height="5" fill="#fff"/>
<rect x="172" y="409" width="3" height="5" fill="#fff"/>
<rect x="178" y="394" width="3" height="5" fill="#fff"/>
<rect x="178" y="409" width="3" height="5" fill="#fff"/>
<rect x="184" y="394" width="3" height="5" fill="#fff"/>
<rect x="184" y="409" width="3" height="5" fill="#fff"/>
<rect x="190" y="394" width="3" height="5" fill="#fff"/>
<rect x="190" y="409" width="3" height="5" fill="#fff"/>
<rect x="196" y="394" width="3" height="5" fill="#fff"/>
<rect x="196" y="409" width="3" height="5" fill="#fff"/>
<rect x="201" y="394" width="3" height="5" fill="#fff"/>
<rect x="201" y="409" width="3" height="5" fill="#fff"/>
<rect x="207" y="394" width="3" height="5" fill="#fff"/>
<rect x="207" y="409" width="3" height="5" fill="#fff"/>
<rect x="213" y="394" width="3" height="5" fill="#fff"/>
<rect x="213" y="409" width="3" height="5" fill="#fff"/>
<rect x="140" y="401" width="32" height="5" fill="#fff"/>
<rect x="177" y="401" width="34" height="5" fill="#fff"/>
<path d="M218.5,401.7H214.8L215.1,404L218.5,406.2Z" fill="#fff"/>
<rect x="134" y="418" width="84" height="25" fill="#000"/>
<rect x="137" y="421" width="3" height="5" fill="#fff"/>
<rect x="137" y="436" width="3" height="5" fill="#fff"/>
<rect x="143" y="421" width="3" height="5" fill="#fff"/>
<rect x="143" y="436" width="3" height="5" fill="#fff"/>
<rect x="149" y="421" width="3" height="5" fill="#fff"/>
<rect x="149" y="436" width="3" height="5" fill="#fff"/>
<rect x="155" y="421" width="3" height="5" fill="#fff"/>
<rect x="155" y="436" width="3" height="5" fill="#fff"/>
<rect x="161" y="421" width="3" height="5" fill="#fff"/>
<rect x="161" y="436" width="3" height="5" fill="#fff"/>
<rect x="166" y="421" width="3" height="5" fill="#fff"/>
<rect x="166" y="436" width="3" height="5" fill="#fff"/>
<rect x="172" y="421" width="3" height="5" fill="#fff"/>
<rect x="172" y="436" width="3" height="5" fill="#fff"/>
<rect x="178" y="421" width="3" height="5" fill="#fff"/>
<rect x="178" y="436" width="3" height="5" fill="#fff"/>
<rect x="184" y="421" width="3" height="5" fill="#fff"/>
<rect x="184" y="436" width="3" height="5" fill="#fff"/>
<rect x="190" y="421" width="3" height="5" fill="#fff"/>
<rect x="190" y="436" width="3" height="5" fill="#fff"/>
<rect x="196" y="421" width="3" height="5" fill="#fff"/>
<rect x="196" y="436" width="3" height="5" fill="#fff"/>
<rect x="201" y="421" width="3" height="5" fill="#fff"/>
<rect x="201" y="436" width="3" height="5" fill="#fff"/>
<rect x="207" y="421" width="3" height="5" fill="#fff"/>
<rect x="207" y="436" width="3" height="5" fill="#fff"/>
<rect x="213" y="421" width="3" height="5" fill="#fff"/>
<rect x="213" y="436" width="3" height="5" fill="#fff"/>
<rect x="140" y="428" width="32" height="5" fill="#fff"/>
<rect x="177" y="428" width="34" height="5" fill="#fff"/>
<path d="M218.5,428.7H214.8L215.1,431L218.5,433.2Z" fill="#fff"/>
<rect x="134" y="444" width="84" height="25" fill="#000"/>
<rect x="137" y="447" width="3" height="5" fill="#fff"/>
<rect x="137" y="462" width="3" height="5" fill="#fff"/>
<rect x="143" y="447" width="3" height="5" fill="#fff"/>
<rect x="143" y="462" width="3" height="5" fill="#fff"/>
<rect x="149" y="447" width="3" height="5" fill="#fff"/>
<rect x="149" y="462" width="3" height="5" fill="#fff"/>
<rect x="155" y="447" width="3" height="5" fill="#fff"/>
<rect x="155" y="462" width="3" height="5" fill="#fff"/>
<rect x="161" y="447" width="3" height="5" fill="#fff"/>
<rect x="161" y="462" width="3" height="5" fill="#fff"/>
<rect x="166" y="447" width="3" height="5" fill="#fff"/>
<rect x="166" y="462" width="3" height="5" fill="#fff"/>
<rect x="172" y="447" width="3" height="5" fill="#fff"/>
<rect x="172" y="462" width="3" height="5" fill="#fff"/>
<rect x="178" y="447" width="3" height="5" fill="#fff"/>
<rect x="178" y="462" width="3" height="5" fill="#fff"/>
<rect x="184" y="447" width="3" height="5" fill="#fff"/>
<rect x="184" y="462" width="3" height="5" fill="#fff"/>
<rect x="190" y="447" width="3" height="5" fill="#fff"/>
<rect x="190" y="462" width="3" height="5" fill="#fff"/>
<rect x="196" y="447" width="3" height="5" fill="#fff"/>
<rect x="196" y="462" width="3" height="5" fill="#fff"/>
<rect x="201" y="447" width="3" height="5" fill="#fff"/>
<rect x="201" y="462" width="3" height="5" fill="#fff"/>
<rect x="207" y="447" width="3" height="5" fill="#fff"/>
<rect x="207" y="462" width="3" height="5" fill="#fff"/>
<rect x="213" y="447" width="3" height="5" fill="#fff"/>
<rect x="213" y="462" width="3" height="5" fill="#fff"/>
<rect x="140" y="454" width="32" height="5" fill="#fff"/>
<rect x="177" y="454" width="34" height="5" fill="#fff"/>
<path d="M218.5,454.7H214.8L215.1,457L218.5,459.2Z" fill="#fff"/>
<rect x="134" y="470" width="84" height="25" fill="#000"/>
<rect x="137" y="473" width="3" height="5" fill="#fff"/>
<rect x="137" y="488" width="3" height="5" fill="#fff"/>
<rect x="143" y="473" width="3" height="5" fill="#fff"/>
<rect x="143" y="488" width="3" height="5" fill="#fff"/>
<rect x="149" y="473" width="3" height="5" fill="#fff"/>
<rect x="149" y="488" width="3" height="5" fill="#fff"/>
<rect x="155" y="473" width="3" height="5" fill="#fff"/>
<rect x="155" y="488" width="3" height="5" fill="#fff"/>
<rect x="161" y="473" width="3" height="5" fill="#fff"/>
<rect x="161" y="488" width="3" height="5" fill="#fff"/>
<rect x="166" y="473" width="3" height="5" fill="#fff"/>
<rect x="166" y="488" width="3" height="5" fill="#fff"/>
<rect x="172" y="473" width="3" height="5" fill="#fff"/>
<rect x="172" y="488" width="3" height="5" fill="#fff"/>
<rect x="178" y="473" width="3" height="5" fill="#fff"/>
<rect x="178" y="488" width="3" height="5" fill="#fff"/>
<rect x="184" y="473" width="3" height="5" fill="#fff"/>
<rect x="184" y="488" width="3" height="5" fill="#fff"/>
<rect x="190" y="473" width="3" height="5" fill="#fff"/>
<rect x="190" y="488" width="3" height="5" fill="#fff"/>
<rect x="196" y="473" width="3" height="5" fill="#fff"/>
<rect x="196" y="488" width="3" height="5" fill="#fff"/>
<rect x="201" y="473" width="3" height="5" fill="#fff"/>
<rect x="201" y="488" width="3" height="5" fill="#fff"/>
<rect x="207" y="473" width="3" height="5" fill="#fff"/>
<rect x="207" y="488" width="3" height="5" fill="#fff"/>
<rect x="213" y="473" width="3" height="5" fill="#fff"/>
<rect x="213" y="488" width="3" height="5" fill="#fff"/>
<rect x="140" y="480" width="32" height="5" fill="#fff"/>
<rect x="177" y="480" width="34" height="5" fill="#fff"/>
<path d="M218.5,480.7H214.8L215.1,483L218.5,485.2Z" fill="#fff"/>
<rect x="135" y="332" width="66" height="25" fill="#000"/>
<rect x="138" y="334" width="3" height="5" fill="#fff"/>
<rect x="138" y="350" width="3" height="5" fill="#fff"/>
<rect x="144" y="334" width="3" height="5" fill="#fff"/>
<rect x="144" y="350" width="3" height="5" fill="#fff"/>
<rect x="149" y="334" width="3" height="5" fill="#fff"/>
<rect x="149" y="350" width="3" height="5" fill="#fff"/>
<rect x="155" y="334" width="3" height="5" fill="#fff"/>
<rect x="155" y="350" width="3" height="5" fill="#fff"/>
<rect x="161" y="334" width="3" height="5" fill="#fff"/>
<rect x="161" y="350" width="3" height="5" fill="#fff"/>
<rect x="166" y="334" width="3" height="5" fill="#fff"/>
<rect x="166" y="350" width="3" height="5" fill="#fff"/>
<rect x="172" y="334" width="3" height="5" fill="#fff"/>
<rect x="172" y="350" width="3" height="5" fill="#fff"/>
<rect x="178" y="334" width="3" height="5" fill="#fff"/>
<rect x="178" y="350" width="3" height="5" fill="#fff"/>
<rect x="183" y="334" width="3" height="5" fill="#fff"/>
<rect x="183" y="350" width="3" height="5" fill="#fff"/>
<rect x="189" y="334" width="3" height="5" fill="#fff"/>
<rect x="189" y="350" width="3" height="5" fill="#fff"/>
<rect x="194" y="334" width="3" height="5" fill="#fff"/>
<rect x="194" y="350" width="3" height="5" fill="#fff"/>
<rect x="140" y="342" width="26" height="5" fill="#fff"/>
<rect x="170" y="342" width="23" height="5" fill="#fff"/>
<path d="M201.5,342.7H197.8L198.1,345L201.5,347.2Z" fill="#fff"/>
<rect x="135" y="358" width="66" height="25" fill="#000"/>
<rect x="138" y="360" width="3" height="5" fill="#fff"/>
<rect x="138" y="376" width="3" height="5" fill="#fff"/>
<rect x="144" y="360" width="3" height="5" fill="#fff"/>
<rect x="144" y="376" width="3" height="5" fill="#fff"/>
<rect x="149" y="360" width="3" height="5" fill="#fff"/>
<rect x="149" y="376" width="3" height="5" fill="#fff"/>
<rect x="155" y="360" width="3" height="5" fill="#fff"/>
<rect x="155" y="376" width="3" height="5" fill="#fff"/>
<rect x="161" y="360" width="3" height="5" fill="#fff"/>
<rect x="161" y="376" width="3" height="5" fill="#fff"/>
<rect x="166" y="360" width="3" height="5" fill="#fff"/>
<rect x="166" y="376" width="3" height="5" fill="#fff"/>
<rect x="172" y="360" width="3" height="5" fill="#fff"/>
<rect x="172" y="376" width="3" height="5" fill="#fff"/>
<rect x="178" y="360" width="3" height="5" fill="#fff"/>
<rect x="178" y="376" width="3" height="5" fill="#fff"/>
<rect x="183" y="360" width="3" height="5" fill="#fff"/>
<rect x="183" y="376" width="3" height="5" fill="#fff"/>
<rect x="189" y="360" width="3" height="5" fill="#fff"/>
<rect x="189" y="376" width="3" height="5" fill="#fff"/>
<rect x="194" y="360" width="3" height="5" fill="#fff"/>
<rect x="194" y="376" width="3" height="5" fill="#fff"/>
<rect x="140" y="368" width="26" height="5" fill="#fff"/>
<rect x="170" y="368" width="23" height="5" fill="#fff"/>
<path d="M201.5,368.7H197.8L198.1,371L201.5,373.2Z" fill="#fff"/>
<rect x="135" y="357" width="66" height="1" fill="#fff"/>
<rect x="135" y="357" width="1" height="1" fill="#000"/>
<path d="M151,349H183L184,350V367L183,368H151L150,367V350Z" fill="#000"/>
<path d="M152.51,351.5H181.49L181.5,351.51V365.49L181.49,365.5H152.51L152.5,365.49V351.51Z" fill="#fff"/>
<path d="M105.5,427.5H155L156,428.5V445L155,446H105.5L104.5,445V428.5Z" fill="#000"/>
<path d="M107.01,430.0H153.49L153.5,430.01V443.49L153.49,443.5H107.01L107.0,443.49V430.01Z" fill="#fff"/>
<rect x="628" y="358" width="127" height="43" fill="#000"/>
<rect x="631" y="360" width="4" height="1" fill="#fff"/>
<rect x="631" y="398" width="4" height="1" fill="#fff"/>
<rect x="637" y="360" width="4" height="1" fill="#fff"/>
<rect x="637" y="398" width="4" height="1" fill="#fff"/>
<rect x="644" y="360" width="3" height="1" fill="#fff"/>
<rect x="644" y="398" width="3" height="1" fill="#fff"/>
<rect x="650" y="360" width="3" height="1" fill="#fff"/>
<rect x="650" y="398" width="3" height="1" fill="#fff"/>
<rect x="656" y="360" width="4" height="1" fill="#fff"/>
<rect x="656" y="398" width="4" height="1" fill="#fff"/>
<rect x="662" y="360" width="4" height="1" fill="#fff"/>
<rect x="662" y="398" width="4" height="1" fill="#fff"/>
<rect x="668" y="360" width="4" height="1" fill="#fff"/>
<rect x="668" y="398" width="4" height="1" fill="#fff"/>
<rect x="675" y="360" width="3" height="1" fill="#fff"/>
<rect x="675" y="398" width="3" height="1" fill="#fff"/>
<rect x="681" y="360" width="4" height="1" fill="#fff"/>
<rect x="681" y="398" width="4" height="1" fill="#fff"/>
<rect x="687" y="360" width="4" height="1" fill="#fff"/>
<rect x="687" y="398" width="4" height="1" fill="#fff"/>
<rect x="694" y="360" width="3" height="1" fill="#fff"/>
<rect x="694" y="398" width="3" height="1" fill="#fff"/>
<rect x="700" y="360" width="3" height="1" fill="#fff"/>
<rect x="700" y="398" width="3" height="1" fill="#fff"/>
<rect x="706" y="360" width="4" height="1" fill="#fff"/>
<rect x="706" y="398" width="4" height="1" fill="#fff"/>
<rect x="712" y="360" width="4" height="1" fill="#fff"/>
<rect x="712" y="398" width="4" height="1" fill="#fff"/>
<rect x="718" y="360" width="4" height="1" fill="#fff"/>
<rect x="718" y="398" width="4" height="1" fill="#fff"/>
<rect x="725" y="360" width="3" height="1" fill="#fff"/>
<rect x="725" y="398" width="3" height="1" fill="#fff"/>
<rect x="731" y="360" width="4" height="1" fill="#fff"/>
<rect x="731" y="398" width="4" height="1" fill="#fff"/>
<rect x="737" y="360" width="4" height="1" fill="#fff"/>
<rect x="737" y="398" width="4" height="1" fill="#fff"/>
<rect x="744" y="360" width="3" height="1" fill="#fff"/>
<rect x="744" y="398" width="3" height="1" fill="#fff"/>
<rect x="750" y="360" width="3" height="1" fill="#fff"/>
<rect x="750" y="398" width="3" height="1" fill="#fff"/>
<rect x="753" y="373" width="2" height="13" fill="#fff"/>
<rect x="754" y="372" width="1" height="1" fill="#fff"/>
<rect x="754" y="386" width="1" height="1" fill="#fff"/>
<rect x="678" y="372" width="28" height="14" fill="#fff"/>
<pattern id="dots" width="2" height="2" patternUnits="userSpaceOnUse"><rect width="2" height="2" fill="#fff"/><rect x="0" y="0" width="1" height="1" fill="#000"/></pattern>
<path d="M768,390H804V413H768Z" fill="url(#dots)"/>
<rect x="770" y="388" width="6" height="1" fill="#000"/>
<rect x="785" y="388" width="3" height="1" fill="#000"/>
<rect x="797" y="388" width="7" height="1" fill="#000"/>
<rect x="776" y="389" width="9" height="1" fill="#000"/>
<rect x="788" y="389" width="9" height="1" fill="#000"/>
<rect x="770" y="414" width="5" height="1" fill="#000"/>
<rect x="784" y="414" width="6" height="1" fill="#000"/>
<rect x="799" y="414" width="5" height="1" fill="#000"/>
<rect x="775" y="413" width="9" height="1" fill="#000"/>
<rect x="790" y="413" width="9" height="1" fill="#000"/>
<rect x="766" y="392" width="1" height="19" fill="#000"/>
<rect x="806" y="392" width="1" height="19" fill="#000"/>
<rect x="767" y="390" width="1" height="2" fill="#000"/>
<rect x="768" y="389" width="2" height="1" fill="#000"/>
<rect x="767" y="411" width="1" height="2" fill="#000"/>
<rect x="768" y="413" width="2" height="1" fill="#000"/>
<rect x="805" y="390" width="1" height="2" fill="#000"/>
<rect x="804" y="389" width="1" height="1" fill="#000"/>
<rect x="805" y="411" width="1" height="2" fill="#000"/>
<rect x="804" y="413" width="1" height="1" fill="#000"/>
<rect x="738" y="415" width="13" height="7" fill="#000"/>
<rect x="739" y="420" width="11" height="1" fill="#fff"/>
<rect x="739" y="416" width="1" height="5" fill="#fff"/>
<rect x="744" y="416" width="1" height="5" fill="#fff"/>
<path d="M696,424H727.5L729.5,426V441L727.5,443H696L694,441V426Z" fill="#000"/>
<path d="M697,426H726.5L727.5,427V440L726.5,441H697L696,440V427Z" fill="#fff"/>
<rect x="735" y="428" width="25" height="7" fill="#000"/>
<rect x="736" y="433" width="23" height="1" fill="#fff"/>
<rect x="740" y="429" width="1" height="5" fill="#fff"/>
<rect x="747" y="429" width="1" height="5" fill="#fff"/>
<rect x="753" y="429" width="1" height="5" fill="#fff"/>
<rect x="758" y="429" width="1" height="5" fill="#fff"/>
<rect x="737" y="430" width="3" height="2" fill="#fff"/>
<path d="M791,432H815V427H818V425H821V476H818V474H815V469H791Z" fill="#000"/>
<rect x="785" y="456" width="6" height="7" fill="#000"/>
<rect x="786" y="457" width="4" height="5" fill="#fff"/>
<rect x="791" y="458" width="1" height="1" fill="#fff"/>
<rect x="791" y="460" width="1" height="1" fill="#fff"/>
<path d="M770,437H799L801,439V454L799,456H770L768,454V439Z" fill="#000"/>
<path d="M771,439H798L799,440V453L798,454H771L770,453V440Z" fill="#fff"/>
<rect x="665" y="441" width="19" height="7" fill="#000"/>
<rect x="666" y="442" width="17" height="1" fill="#fff"/>
<rect x="670" y="443" width="2" height="4" fill="#fff"/>
<rect x="676" y="443" width="1" height="4" fill="#fff"/>
<rect x="682" y="443" width="1" height="4" fill="#fff"/>
<rect x="678" y="444" width="3" height="2" fill="#fff"/>
<path d="M624,451H655.5L657.5,453V468L655.5,470H624L622,468V453Z" fill="#000"/>
<path d="M625,453H654.5L655.5,454V467L654.5,468H625L624,467V454Z" fill="#fff"/>
<rect x="658" y="495" width="112" height="24" fill="#000"/>
<rect x="659" y="496" width="110" height="22" fill="#fff"/>
<rect x="660" y="498" width="7" height="2" fill="#000"/>
<rect x="662" y="497" width="3" height="6" fill="#000"/>
<rect x="660" y="505" width="7" height="3" fill="#000"/>
<rect x="661" y="506" width="1" height="1" fill="#fff"/>
<rect x="663" y="506" width="1" height="1" fill="#fff"/>
<rect x="665" y="506" width="1" height="1" fill="#fff"/>
<rect x="669" y="498" width="7" height="2" fill="#000"/>
<rect x="671" y="497" width="3" height="6" fill="#000"/>
<rect x="669" y="505" width="7" height="3" fill="#000"/>
<rect x="670" y="506" width="1" height="1" fill="#fff"/>
<rect x="672" y="506" width="1" height="1" fill="#fff"/>
<rect x="674" y="506" width="1" height="1" fill="#fff"/>
<rect x="678" y="498" width="7" height="2" fill="#000"/>
<rect x="680" y="497" width="3" height="6" fill="#000"/>
<rect x="678" y="505" width="7" height="3" fill="#000"/>
<rect x="680" y="506" width="1" height="1" fill="#fff"/>
<rect x="682" y="506" width="1" height="1" fill="#fff"/>
<rect x="684" y="506" width="1" height="1" fill="#fff"/>
<rect x="687" y="498" width="7" height="2" fill="#000"/>
<rect x="689" y="497" width="3" height="6" fill="#000"/>
<rect x="687" y="505" width="7" height="3" fill="#000"/>
<rect x="689" y="506" width="1" height="1" fill="#fff"/>
<rect x="691" y="506" width="1" height="1" fill="#fff"/>
<rect x="693" y="506" width="1" height="1" fill="#fff"/>
<rect x="697" y="498" width="7" height="2" fill="#000"/>
<rect x="699" y="497" width="3" height="6" fill="#000"/>
<rect x="697" y="505" width="7" height="3" fill="#000"/>
<rect x="698" y="506" width="1" height="1" fill="#fff"/>
<rect x="700" y="506" width="1" height="1" fill="#fff"/>
<rect x="702" y="506" width="1" height="1" fill="#fff"/>
<rect x="706" y="498" width="7" height="2" fill="#000"/>
<rect x="708" y="497" width="3" height="6" fill="#000"/>
<rect x="706" y="505" width="7" height="3" fill="#000"/>
<rect x="707" y="506" width="1" height="1" fill="#fff"/>
<rect x="709" y="506" width="1" height="1" fill="#fff"/>
<rect x="711" y="506" width="1" height="1" fill="#fff"/>
<rect x="715" y="498" width="7" height="2" fill="#000"/>
<rect x="717" y="497" width="3" height="6" fill="#000"/>
<rect x="715" y="505" width="7" height="3" fill="#000"/>
<rect x="717" y="506" width="1" height="1" fill="#fff"/>
<rect x="719" y="506" width="1" height="1" fill="#fff"/>
<rect x="721" y="506" width="1" height="1" fill="#fff"/>
<rect x="724" y="498" width="7" height="2" fill="#000"/>
<rect x="726" y="497" width="3" height="6" fill="#000"/>
<rect x="724" y="505" width="7" height="3" fill="#000"/>
<rect x="726" y="506" width="1" height="1" fill="#fff"/>
<rect x="728" y="506" width="1" height="1" fill="#fff"/>
<rect x="730" y="506" width="1" height="1" fill="#fff"/>
<rect x="734" y="498" width="7" height="2" fill="#000"/>
<rect x="736" y="497" width="3" height="6" fill="#000"/>
<rect x="734" y="505" width="7" height="3" fill="#000"/>
<rect x="735" y="506" width="1" height="1" fill="#fff"/>
<rect x="737" y="506" width="1" height="1" fill="#fff"/>
<rect x="739" y="506" width="1" height="1" fill="#fff"/>
<rect x="743" y="498" width="7" height="2" fill="#000"/>
<rect x="745" y="497" width="3" height="6" fill="#000"/>
<rect x="743" y="505" width="7" height="3" fill="#000"/>
<rect x="744" y="506" width="1" height="1" fill="#fff"/>
<rect x="746" y="506" width="1" height="1" fill="#fff"/>
<rect x="748" y="506" width="1" height="1" fill="#fff"/>
<rect x="752" y="498" width="7" height="2" fill="#000"/>
<rect x="754" y="497" width="3" height="6" fill="#000"/>
<rect x="752" y="505" width="7" height="3" fill="#000"/>
<rect x="754" y="506" width="1" height="1" fill="#fff"/>
<rect x="756" y="506" width="1" height="1" fill="#fff"/>
<rect x="758" y="506" width="1" height="1" fill="#fff"/>
<rect x="761" y="498" width="7" height="2" fill="#000"/>
<rect x="763" y="497" width="3" height="6" fill="#000"/>
<rect x="761" y="505" width="7" height="3" fill="#000"/>
<rect x="763" y="506" width="1" height="1" fill="#fff"/>
<rect x="765" y="506" width="1" height="1" fill="#fff"/>
<rect x="767" y="506" width="1" height="1" fill="#fff"/>
<rect x="664" y="509" width="7" height="7" fill="#000"/>
<rect x="665" y="510" width="5" height="5" fill="#fff"/>
<rect x="674" y="509" width="7" height="7" fill="#000"/>
<rect x="675" y="510" width="5" height="5" fill="#fff"/>
<rect x="683" y="509" width="7" height="7" fill="#000"/>
<rect x="684" y="510" width="5" height="5" fill="#fff"/>
<rect x="693" y="509" width="7" height="7" fill="#000"/>
<rect x="694" y="510" width="5" height="5" fill="#fff"/>
<rect x="702" y="509" width="7" height="7" fill="#000"/>
<rect x="703" y="510" width="5" height="5" fill="#fff"/>
<rect x="711" y="509" width="7" height="7" fill="#000"/>
<rect x="712" y="510" width="5" height="5" fill="#fff"/>
<rect x="721" y="509" width="7" height="7" fill="#000"/>
<rect x="722" y="510" width="5" height="5" fill="#fff"/>
<rect x="730" y="509" width="7" height="7" fill="#000"/>
<rect x="731" y="510" width="5" height="5" fill="#fff"/>
<rect x="739" y="509" width="7" height="7" fill="#000"/>
<rect x="740" y="510" width="5" height="5" fill="#fff"/>
<rect x="749" y="509" width="7" height="7" fill="#000"/>
<rect x="750" y="510" width="5" height="5" fill="#fff"/>
<rect x="758" y="509" width="7" height="7" fill="#000"/>
<rect x="759" y="510" width="5" height="5" fill="#fff"/>
<rect x="658" y="510" width="1" height="4" fill="#fff"/>
<rect x="658" y="503" width="112" height="1" fill="#000"/>
</g>
<g shape-rendering="auto">
<path d="M31.5,164.5L33.6,174.2H29.4Z" fill="#fff"/>
<path d="M42.50,48.20L35.30,57.80L37.30,59.30L45.50,51.00L45.63,47.70Z" fill="#fff"/>
<path d="M42.50,48.20L35.30,57.80L37.30,59.30L45.50,51.00" fill="none" stroke="#000" stroke-width="1.6" stroke-linejoin="round"/>
<path d="M411.80,41.80L404.50,33.90L406.50,32.10L415.50,39.20L415.49,42.19Z" fill="#000"/>
<path d="M407.80,232.80L414.50,241.20L412.60,242.80L405.20,235.20L404.85,232.12Z" fill="#fff"/>
<path d="M407.80,232.80L414.50,241.20L412.60,242.80L405.20,235.20" fill="none" stroke="#000" stroke-width="1.5" stroke-linejoin="round"/>
<path d="M144.50,285.60L155.00,278.40L155.00,278.40L149.20,288.40L145.13,288.81Z" fill="#fff"/>
<path d="M144.50,285.60L155.00,278.40L155.00,278.40L149.20,288.40" fill="none" stroke="#000" stroke-width="2.6" stroke-linejoin="round"/>
<path d="M97.50,345.60L108.50,338.00L108.50,338.00L100.80,348.40L97.35,348.73Z" fill="#fff"/>
<path d="M97.50,345.60L108.50,338.00L108.50,338.00L100.80,348.40" fill="none" stroke="#000" stroke-width="2.6" stroke-linejoin="round"/>
<path d="M725.00,424.60L735.50,417.40L735.50,417.40L729.00,427.80L725.26,428.00Z" fill="#fff"/>
<path d="M725.00,424.60L735.50,417.40L735.50,417.40L729.00,427.80" fill="none" stroke="#000" stroke-width="2.6" stroke-linejoin="round"/>
<path d="M768.20,440.60L760.80,431.70L762.80,429.90L771.40,437.20L771.56,440.68Z" fill="#000"/>
<path d="M653.00,451.60L662.80,444.00L662.80,444.00L657.00,454.80L653.38,455.11Z" fill="#fff"/>
<path d="M653.00,451.60L662.80,444.00L662.80,444.00L657.00,454.80" fill="none" stroke="#000" stroke-width="2.6" stroke-linejoin="round"/>
</g>
<g style="will-change:transform">

</g>
<g fill="none" stroke="#000" stroke-width="1" stroke-linecap="square" stroke-linejoin="bevel" shape-rendering="crispEdges">
<path d="M50.5,37.5 L50.5,45.5 L49.5,46.5 L48.5,46.5 L47.5,45.5"/>
<path d="M54.5,39.5 L54.5,38.5 L55.5,37.5 L57.5,37.5 L58.5,38.5 L58.5,41.5 L54.5,45.5 L54.5,46.5 L58.5,46.5"/>
<path d="M61.5,38.5 L62.5,37.5 L64.5,37.5 L65.5,38.5 L65.5,40.5 L64.5,41.5 L62.5,41.5"/>
<path d="M64.5,41.5 L65.5,42.5 L65.5,45.5 L64.5,46.5 L62.5,46.5 L61.5,45.5"/>
<path d="M16.5,53.5 L16.5,61.5"/>
<path d="M14.5,55.5 L15.5,55.5 L16.5,54.5"/>
<path d="M23.5,53.5 L23.5,61.5"/>
<path d="M21.5,55.5 L22.5,55.5 L23.5,54.5"/>
<path d="M10.5,117.5 L10.5,116.5 L11.5,116.5 L13.5,116.5 L14.5,116.5 L14.5,119.5 L10.5,123.5 L10.5,124.5 L14.5,124.5"/>
<path d="M18.5,116.5 L20.5,118.5 L20.5,121.5 L18.5,124.5 L16.5,121.5 L16.5,118.5 L18.5,116.5"/>
<path d="M43.5,116.5 L43.5,124.5"/>
<path d="M41.5,117.5 L42.5,117.5 L43.5,116.5"/>
<path d="M49.5,116.5 L51.5,118.5 L51.5,121.5 L49.5,124.5 L47.5,121.5 L47.5,118.5 L49.5,116.5"/>
<path d="M152.5,85.5 L152.5,94.5 L155.5,94.5 L156.5,93.5 L156.5,90.5 L155.5,89.5 L152.5,89.5"/>
<path d="M152.5,85.5 L155.5,85.5 L156.5,86.5 L156.5,88.5 L155.5,89.5"/>
<path d="M160.5,94.5 L160.5,92.5 L163.5,85.5 L166.5,92.5 L166.5,94.5"/>
<path d="M161.5,91.5 L165.5,91.5"/>
<path d="M169.5,94.5 L169.5,85.5 L173.5,94.5 L173.5,85.5"/>
<path d="M177.5,85.5 L177.5,94.5"/>
<path d="M182.5,85.5 L178.5,90.5"/>
<path d="M179.5,89.5 L182.5,94.5"/>
<path d="M197.5,85.5 L197.5,94.5"/>
<path d="M195.5,87.5 L196.5,87.5 L197.5,86.5"/>
<path d="M148.5,186.5 L148.5,195.5 L151.5,195.5 L152.5,194.5 L152.5,191.5 L151.5,190.5 L148.5,190.5"/>
<path d="M148.5,186.5 L151.5,186.5 L152.5,187.5 L152.5,189.5 L151.5,190.5"/>
<path d="M155.5,195.5 L155.5,193.5 L158.5,186.5 L161.5,193.5 L161.5,195.5"/>
<path d="M156.5,192.5 L160.5,192.5"/>
<path d="M164.5,195.5 L164.5,186.5 L168.5,195.5 L168.5,186.5"/>
<path d="M172.5,186.5 L172.5,195.5"/>
<path d="M177.5,186.5 L173.5,191.5"/>
<path d="M174.5,190.5 L177.5,195.5"/>
<path d="M190.5,186.5 L192.5,189.5 L192.5,192.5 L190.5,195.5 L188.5,192.5 L188.5,189.5 L190.5,186.5"/>
<path d="M19.5,176.5 L19.5,183.5 L18.5,184.5 L17.5,184.5 L16.5,183.5"/>
<path d="M24.5,184.5 L24.5,176.5 L27.5,176.5 L28.5,176.5 L28.5,179.5 L27.5,180.5 L24.5,180.5"/>
<path d="M34.5,176.5 L34.5,184.5"/>
<path d="M32.5,177.5 L33.5,177.5 L34.5,176.5"/>
<path d="M39.5,177.5 L39.5,176.5 L40.5,176.5 L42.5,176.5 L43.5,176.5 L43.5,179.5 L39.5,183.5 L39.5,184.5 L43.5,184.5"/>
<path d="M345.5,66.5 L345.5,75.5 L348.5,75.5 L349.5,74.5 L349.5,71.5 L348.5,70.5 L345.5,70.5"/>
<path d="M345.5,66.5 L348.5,66.5 L349.5,67.5 L349.5,69.5 L348.5,70.5"/>
<path d="M354.5,66.5 L354.5,75.5"/>
<path d="M360.5,66.5 L362.5,66.5 L363.5,67.5 L363.5,74.5 L362.5,75.5 L360.5,75.5 L359.5,74.5 L359.5,67.5 L360.5,66.5"/>
<path d="M372.5,67.5 L371.5,66.5 L369.5,66.5 L368.5,67.5 L368.5,69.5 L369.5,70.5 L371.5,70.5 L372.5,71.5 L372.5,74.5 L371.5,75.5 L369.5,75.5 L368.5,74.5"/>
<path d="M421.5,44.5 L420.5,43.5 L418.5,43.5 L417.5,44.5 L417.5,46.5 L418.5,47.5 L420.5,47.5 L421.5,48.5 L421.5,51.5 L420.5,52.5 L418.5,52.5 L417.5,51.5"/>
<path d="M429.5,43.5 L429.5,52.5"/>
<path d="M427.5,45.5 L428.5,45.5 L429.5,44.5"/>
<path d="M122.5,288.5 L122.5,296.5 L121.5,296.5 L120.5,296.5 L119.5,296.5"/>
<path d="M126.5,296.5 L126.5,288.5 L129.5,288.5 L130.5,289.5 L130.5,292.5 L129.5,293.5 L126.5,293.5"/>
<path d="M134.5,289.5 L135.5,288.5 L137.5,288.5 L138.5,289.5 L138.5,291.5 L137.5,292.5 L135.5,292.5"/>
<path d="M137.5,292.5 L138.5,293.5 L138.5,296.5 L137.5,296.5 L135.5,296.5 L134.5,296.5"/>
<path d="M351.5,308.5 L351.5,299.5 L355.5,308.5 L355.5,299.5"/>
<path d="M361.5,308.5 L361.5,299.5 L364.5,299.5 L365.5,300.5 L365.5,303.5 L364.5,304.5 L361.5,304.5"/>
<path d="M370.5,299.5 L370.5,307.5 L371.5,308.5 L373.5,308.5 L374.5,307.5 L374.5,299.5"/>
<path d="M381.5,221.5 L381.5,229.5 L380.5,230.5 L379.5,230.5 L378.5,229.5"/>
<path d="M385.5,230.5 L385.5,221.5 L388.5,221.5 L389.5,222.5 L389.5,225.5 L388.5,226.5 L385.5,226.5"/>
<path d="M397.5,230.5 L397.5,221.5 L394.5,227.5 L398.5,227.5"/>
<path d="M390.5,426.5 L389.5,425.5 L387.5,425.5 L386.5,426.5 L386.5,433.5 L387.5,434.5 L389.5,434.5 L390.5,433.5"/>
<path d="M396.5,434.5 L396.5,425.5 L399.5,425.5 L400.5,426.5 L400.5,429.5 L399.5,430.5 L396.5,430.5"/>
<path d="M406.5,425.5 L406.5,433.5 L407.5,434.5 L409.5,434.5 L410.5,433.5 L410.5,425.5"/>
<path d="M49.5,309.5 L49.5,317.5 L53.5,317.5 L54.5,316.5 L54.5,309.5 L53.5,309.5 L49.5,309.5"/>
<path d="M57.5,309.5 L57.5,309.5"/>
<path d="M57.5,311.5 L57.5,317.5"/>
<path d="M60.5,311.5 L60.5,317.5"/>
<path d="M60.5,313.5 L62.5,311.5 L63.5,311.5"/>
<path d="M67.5,309.5 L67.5,316.5 L68.5,317.5"/>
<path d="M66.5,311.5 L68.5,311.5"/>
<path d="M71.5,311.5 L71.5,314.5 L73.5,317.5"/>
<path d="M75.5,311.5 L75.5,314.5 L73.5,317.5 L72.5,319.5"/>
<path d="M55.5,323.5 L55.5,332.5 L58.5,332.5 L59.5,331.5 L59.5,328.5 L58.5,327.5 L55.5,327.5"/>
<path d="M55.5,323.5 L58.5,323.5 L59.5,324.5 L59.5,326.5 L58.5,327.5"/>
<path d="M63.5,324.5 L63.5,324.5"/>
<path d="M63.5,326.5 L63.5,332.5"/>
<path d="M68.5,323.5 L68.5,331.5 L69.5,332.5"/>
<path d="M67.5,326.5 L69.5,326.5"/>
<path d="M75.5,349.5 L75.5,357.5 L74.5,358.5 L73.5,358.5 L72.5,357.5"/>
<path d="M79.5,358.5 L79.5,349.5 L82.5,349.5 L83.5,350.5 L83.5,353.5 L82.5,354.5 L79.5,354.5"/>
<path d="M91.5,353.5 L88.5,353.5 L87.5,352.5 L87.5,350.5 L88.5,349.5 L90.5,349.5 L91.5,350.5 L91.5,357.5 L90.5,358.5 L88.5,358.5 L87.5,357.5"/>
<path d="M155.5,353.5 L159.5,353.5"/>
<path d="M157.5,353.5 L157.5,362.5"/>
<path d="M163.5,362.5 L163.5,360.5 L166.5,353.5 L169.5,360.5 L169.5,362.5"/>
<path d="M164.5,359.5 L168.5,359.5"/>
<path d="M177.5,354.5 L176.5,353.5 L174.5,353.5 L173.5,354.5 L173.5,361.5 L174.5,362.5 L176.5,362.5 L177.5,361.5 L177.5,358.5 L175.5,358.5"/>
<path d="M112.5,432.5 L111.5,431.5 L109.5,431.5 L108.5,432.5 L108.5,438.5 L109.5,439.5 L111.5,439.5 L112.5,438.5"/>
<path d="M117.5,439.5 L117.5,437.5 L120.5,431.5 L123.5,437.5 L123.5,439.5"/>
<path d="M118.5,436.5 L122.5,436.5"/>
<path d="M132.5,432.5 L131.5,431.5 L129.5,431.5 L128.5,432.5 L128.5,438.5 L129.5,439.5 L131.5,439.5 L132.5,438.5"/>
<path d="M137.5,431.5 L137.5,439.5"/>
<path d="M141.5,431.5 L141.5,439.5"/>
<path d="M137.5,434.5 L141.5,434.5"/>
<path d="M150.5,431.5 L146.5,431.5 L146.5,439.5 L150.5,439.5"/>
<path d="M146.5,434.5 L149.5,434.5"/>
<path d="M680.5,373.5 L680.5,382.5"/>
<path d="M685.5,373.5 L681.5,378.5"/>
<path d="M682.5,377.5 L685.5,382.5"/>
<path d="M689.5,373.5 L689.5,382.5 L692.5,382.5 L693.5,381.5 L693.5,378.5 L692.5,377.5 L689.5,377.5"/>
<path d="M689.5,373.5 L692.5,373.5 L693.5,374.5 L693.5,376.5 L692.5,377.5"/>
<path d="M697.5,373.5 L697.5,382.5 L701.5,382.5 L702.5,381.5 L702.5,374.5 L701.5,373.5 L697.5,373.5"/>
<path d="M704.5,428.5 L704.5,436.5 L703.5,437.5 L702.5,437.5 L701.5,436.5"/>
<path d="M710.5,437.5 L710.5,428.5 L713.5,428.5 L714.5,429.5 L714.5,432.5 L713.5,433.5 L710.5,433.5"/>
<path d="M721.5,428.5 L721.5,437.5"/>
<path d="M719.5,430.5 L720.5,430.5 L721.5,429.5"/>
<path d="M777.5,440.5 L777.5,448.5 L776.5,449.5 L775.5,449.5 L774.5,448.5"/>
<path d="M784.5,440.5 L784.5,449.5"/>
<path d="M782.5,442.5 L783.5,442.5 L784.5,441.5"/>
<path d="M790.5,440.5 L792.5,443.5 L792.5,446.5 L790.5,449.5 L788.5,446.5 L788.5,443.5 L790.5,440.5"/>
<path d="M630.5,455.5 L630.5,462.5 L629.5,463.5 L628.5,463.5 L627.5,462.5"/>
<path d="M634.5,463.5 L634.5,455.5 L637.5,455.5 L638.5,456.5 L638.5,458.5 L637.5,459.5 L634.5,459.5"/>
<path d="M643.5,457.5 L643.5,456.5 L644.5,455.5 L646.5,455.5 L647.5,456.5 L647.5,458.5 L643.5,462.5 L643.5,463.5 L647.5,463.5"/>
<path d="M658.5,55.5 L658.5,47.5"/>
<path d="M659.5,55.5 L659.5,47.5"/>
<path d="M663.5,55.5 L663.5,47.5"/>
<path d="M662.5,55.5 L662.5,47.5"/>
<path d="M660.5,49.5 L660.5,52.5"/>
<path d="M661.5,49.5 L661.5,52.5"/>
<path d="M666.5,47.5 L666.5,55.5"/>
<path d="M670.5,47.5 L670.5,55.5"/>
<path d="M666.5,51.5 L670.5,51.5"/>
<path d="M675.5,47.5 L677.5,50.5 L677.5,52.5 L675.5,55.5 L673.5,52.5 L673.5,50.5 L675.5,47.5"/>
<path d="M685.5,48.5 L684.5,47.5 L682.5,47.5 L681.5,48.5 L681.5,54.5 L682.5,55.5 L684.5,55.5 L685.5,54.5 L685.5,51.5 L684.5,51.5 L681.5,51.5"/>
<path d="M692.5,48.5 L691.5,47.5 L689.5,47.5 L688.5,48.5 L688.5,54.5 L689.5,55.5 L691.5,55.5 L692.5,54.5 L692.5,51.5 L691.5,51.5 L688.5,51.5"/>
<path d="M698.5,55.5 L698.5,47.5 L695.5,52.5 L699.5,52.5"/>
</g>
</svg></body></html>
